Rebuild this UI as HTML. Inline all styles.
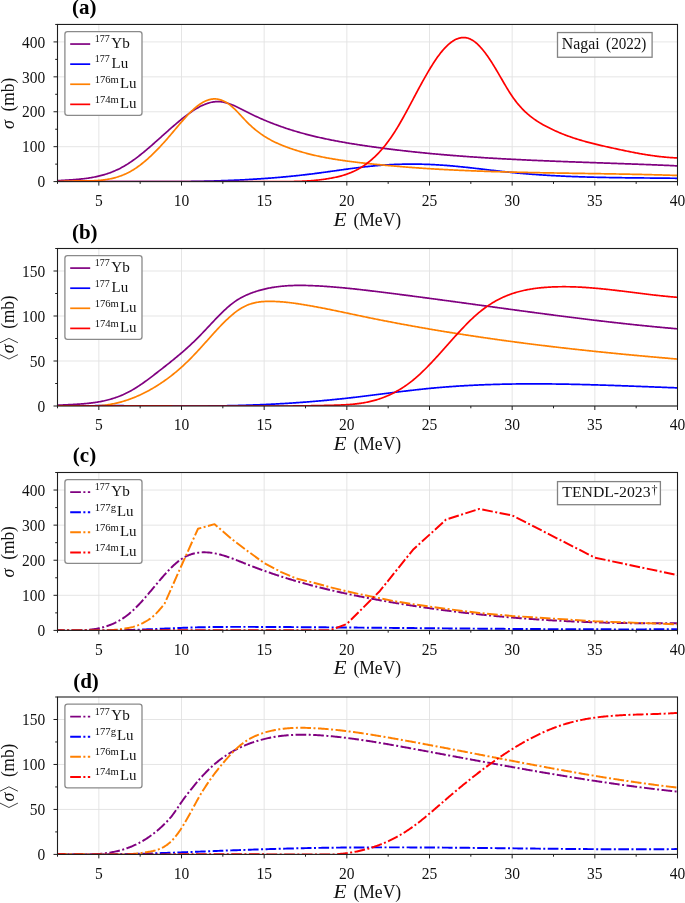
<!DOCTYPE html>
<html><head><meta charset="utf-8"><style>html,body{margin:0;padding:0;background:#fff;width:685px;height:903px;overflow:hidden}</style></head>
<body><svg width="685" height="903" viewBox="0 0 685 903" style="display:block;will-change:transform">
<rect width="685" height="903" fill="#fff"/>
<clipPath id="clip0"><rect x="57.5" y="24.45" width="620.0" height="157.15"/></clipPath>
<path d="M98.83 24.45V181.6M181.5 24.45V181.6M264.17 24.45V181.6M346.83 24.45V181.6M429.5 24.45V181.6M512.17 24.45V181.6M594.83 24.45V181.6M677.5 24.45V181.6M57.5 181.6H677.5M57.5 146.68H677.5M57.5 111.76H677.5M57.5 76.83H677.5M57.5 41.91H677.5" stroke="#e2e2e2" stroke-width="0.9" fill="none"/>
<g clip-path="url(#clip0)" fill="none" stroke-width="1.7" stroke-linejoin="round">
<path d="M57.5 180.67 58.5 180.6 59.5 180.54 60.5 180.48 61.5 180.43 62.5 180.37 63.5 180.31 64.5 180.25 65.5 180.19 66.5 180.13 67.5 180.07 68.5 180.01 69.5 179.95 70.5 179.88 71.5 179.81 72.5 179.74 73.5 179.67 74.5 179.6 75.5 179.52 76.5 179.44 77.5 179.35 78.5 179.26 79.5 179.17 80.5 179.07 81.5 178.96 82.5 178.85 83.5 178.74 84.5 178.62 85.5 178.49 86.5 178.36 87.5 178.22 88.5 178.08 89.5 177.92 90.5 177.76 91.5 177.6 92.5 177.42 93.5 177.24 94.5 177.04 95.5 176.84 96.5 176.63 97.5 176.41 98.5 176.18 99.5 175.94 100.5 175.69 101.5 175.43 102.5 175.16 103.5 174.88 104.5 174.59 105.5 174.28 106.5 173.97 107.5 173.64 108.5 173.3 109.5 172.94 110.5 172.58 111.5 172.2 112.5 171.81 113.5 171.4 114.5 170.98 115.5 170.54 116.5 170.09 117.5 169.63 118.5 169.15 119.5 168.65 120.5 168.14 121.5 167.61 122.5 167.07 123.5 166.51 124.5 165.93 125.5 165.34 126.5 164.73 127.5 164.11 128.5 163.47 129.5 162.81 130.5 162.14 131.5 161.46 132.5 160.76 133.5 160.05 134.5 159.32 135.5 158.59 136.5 157.84 137.5 157.08 138.5 156.31 139.5 155.53 140.5 154.74 141.5 153.94 142.5 153.13 143.5 152.31 144.5 151.49 145.5 150.65 146.5 149.81 147.5 148.97 148.5 148.11 149.5 147.25 150.5 146.39 151.5 145.52 152.5 144.64 153.5 143.76 154.5 142.88 155.5 141.99 156.5 141.1 157.5 140.21 158.5 139.32 159.5 138.42 160.5 137.53 161.5 136.63 162.5 135.73 163.5 134.84 164.5 133.94 165.5 133.05 166.5 132.16 167.5 131.27 168.5 130.38 169.5 129.49 170.5 128.61 171.5 127.73 172.5 126.86 173.5 125.99 174.5 125.13 175.5 124.27 176.5 123.42 177.5 122.58 178.5 121.74 179.5 120.91 180.5 120.09 181.5 119.27 182.5 118.47 183.5 117.67 184.5 116.89 185.5 116.11 186.5 115.35 187.5 114.6 188.5 113.87 189.5 113.14 190.5 112.44 191.5 111.74 192.5 111.07 193.5 110.41 194.5 109.77 195.5 109.14 196.5 108.54 197.5 107.96 198.5 107.39 199.5 106.85 200.5 106.33 201.5 105.84 202.5 105.36 203.5 104.91 204.5 104.49 205.5 104.09 206.5 103.72 207.5 103.38 208.5 103.06 209.5 102.77 210.5 102.52 211.5 102.29 212.5 102.09 213.5 101.93 214.5 101.79 215.5 101.69 216.5 101.63 217.5 101.6 218.5 101.6 219.5 101.64 220.5 101.72 221.5 101.83 222.5 101.98 223.5 102.16 224.5 102.37 225.5 102.61 226.5 102.88 227.5 103.17 228.5 103.49 229.5 103.83 230.5 104.2 231.5 104.58 232.5 104.98 233.5 105.4 234.5 105.84 235.5 106.29 236.5 106.76 237.5 107.23 238.5 107.72 239.5 108.21 240.5 108.71 241.5 109.22 242.5 109.73 243.5 110.25 244.5 110.76 245.5 111.27 246.5 111.78 247.5 112.29 248.5 112.8 249.5 113.29 250.5 113.79 251.5 114.28 252.5 114.76 253.5 115.24 254.5 115.71 255.5 116.18 256.5 116.64 257.5 117.1 258.5 117.55 259.5 118 260.5 118.44 261.5 118.88 262.5 119.32 263.5 119.75 264.5 120.17 265.5 120.59 266.5 121.01 267.5 121.42 268.5 121.83 269.5 122.23 270.5 122.63 271.5 123.02 272.5 123.41 273.5 123.79 274.5 124.18 275.5 124.55 276.5 124.92 277.5 125.29 278.5 125.66 279.5 126.02 280.5 126.37 281.5 126.72 282.5 127.07 283.5 127.42 284.5 127.76 285.5 128.09 286.5 128.43 287.5 128.76 288.5 129.08 289.5 129.4 290.5 129.72 291.5 130.03 292.5 130.34 293.5 130.65 294.5 130.95 295.5 131.25 296.5 131.55 297.5 131.84 298.5 132.13 299.5 132.42 300.5 132.7 301.5 132.98 302.5 133.26 303.5 133.53 304.5 133.8 305.5 134.07 306.5 134.33 307.5 134.6 308.5 134.85 309.5 135.11 310.5 135.36 311.5 135.61 312.5 135.86 313.5 136.1 314.5 136.34 315.5 136.58 316.5 136.81 317.5 137.05 318.5 137.28 319.5 137.5 320.5 137.73 321.5 137.95 322.5 138.17 323.5 138.39 324.5 138.6 325.5 138.82 326.5 139.03 327.5 139.23 328.5 139.44 329.5 139.64 330.5 139.85 331.5 140.04 332.5 140.24 333.5 140.44 334.5 140.63 335.5 140.82 336.5 141.01 337.5 141.2 338.5 141.38 339.5 141.56 340.5 141.74 341.5 141.92 342.5 142.1 343.5 142.28 344.5 142.45 345.5 142.63 346.5 142.8 347.5 142.97 348.5 143.13 349.5 143.3 350.5 143.47 351.5 143.63 352.5 143.79 353.5 143.95 354.5 144.11 355.5 144.27 356.5 144.43 357.5 144.58 358.5 144.74 359.5 144.89 360.5 145.04 361.5 145.2 362.5 145.35 363.5 145.5 364.5 145.64 365.5 145.79 366.5 145.94 367.5 146.08 368.5 146.23 369.5 146.37 370.5 146.51 371.5 146.66 372.5 146.8 373.5 146.94 374.5 147.08 375.5 147.21 376.5 147.35 377.5 147.49 378.5 147.62 379.5 147.76 380.5 147.89 381.5 148.03 382.5 148.16 383.5 148.29 384.5 148.42 385.5 148.55 386.5 148.68 387.5 148.8 388.5 148.93 389.5 149.06 390.5 149.18 391.5 149.31 392.5 149.43 393.5 149.55 394.5 149.67 395.5 149.8 396.5 149.92 397.5 150.04 398.5 150.15 399.5 150.27 400.5 150.39 401.5 150.5 402.5 150.62 403.5 150.73 404.5 150.85 405.5 150.96 406.5 151.07 407.5 151.18 408.5 151.29 409.5 151.4 410.5 151.51 411.5 151.62 412.5 151.73 413.5 151.84 414.5 151.94 415.5 152.05 416.5 152.15 417.5 152.26 418.5 152.36 419.5 152.46 420.5 152.56 421.5 152.66 422.5 152.76 423.5 152.86 424.5 152.96 425.5 153.06 426.5 153.16 427.5 153.25 428.5 153.35 429.5 153.44 430.5 153.54 431.5 153.63 432.5 153.73 433.5 153.82 434.5 153.91 435.5 154 436.5 154.09 437.5 154.18 438.5 154.27 439.5 154.36 440.5 154.45 441.5 154.53 442.5 154.62 443.5 154.71 444.5 154.79 445.5 154.88 446.5 154.96 447.5 155.04 448.5 155.13 449.5 155.21 450.5 155.29 451.5 155.37 452.5 155.45 453.5 155.53 454.5 155.61 455.5 155.69 456.5 155.77 457.5 155.84 458.5 155.92 459.5 156 460.5 156.07 461.5 156.15 462.5 156.22 463.5 156.3 464.5 156.37 465.5 156.44 466.5 156.51 467.5 156.59 468.5 156.66 469.5 156.73 470.5 156.8 471.5 156.87 472.5 156.94 473.5 157.01 474.5 157.07 475.5 157.14 476.5 157.21 477.5 157.27 478.5 157.34 479.5 157.41 480.5 157.47 481.5 157.54 482.5 157.6 483.5 157.66 484.5 157.73 485.5 157.79 486.5 157.85 487.5 157.91 488.5 157.98 489.5 158.04 490.5 158.1 491.5 158.16 492.5 158.22 493.5 158.28 494.5 158.33 495.5 158.39 496.5 158.45 497.5 158.51 498.5 158.56 499.5 158.62 500.5 158.68 501.5 158.73 502.5 158.79 503.5 158.84 504.5 158.9 505.5 158.95 506.5 159.01 507.5 159.06 508.5 159.11 509.5 159.16 510.5 159.22 511.5 159.27 512.5 159.32 513.5 159.37 514.5 159.42 515.5 159.47 516.5 159.52 517.5 159.57 518.5 159.62 519.5 159.67 520.5 159.72 521.5 159.77 522.5 159.82 523.5 159.86 524.5 159.91 525.5 159.96 526.5 160 527.5 160.05 528.5 160.1 529.5 160.14 530.5 160.19 531.5 160.23 532.5 160.28 533.5 160.32 534.5 160.37 535.5 160.41 536.5 160.46 537.5 160.5 538.5 160.54 539.5 160.59 540.5 160.63 541.5 160.67 542.5 160.72 543.5 160.76 544.5 160.8 545.5 160.84 546.5 160.88 547.5 160.92 548.5 160.97 549.5 161.01 550.5 161.05 551.5 161.09 552.5 161.13 553.5 161.17 554.5 161.21 555.5 161.25 556.5 161.29 557.5 161.33 558.5 161.36 559.5 161.4 560.5 161.44 561.5 161.48 562.5 161.52 563.5 161.56 564.5 161.6 565.5 161.63 566.5 161.67 567.5 161.71 568.5 161.75 569.5 161.78 570.5 161.82 571.5 161.86 572.5 161.9 573.5 161.93 574.5 161.97 575.5 162.01 576.5 162.04 577.5 162.08 578.5 162.11 579.5 162.15 580.5 162.19 581.5 162.22 582.5 162.26 583.5 162.29 584.5 162.33 585.5 162.37 586.5 162.4 587.5 162.44 588.5 162.47 589.5 162.51 590.5 162.54 591.5 162.58 592.5 162.61 593.5 162.65 594.5 162.68 595.5 162.72 596.5 162.76 597.5 162.79 598.5 162.83 599.5 162.86 600.5 162.9 601.5 162.93 602.5 162.97 603.5 163 604.5 163.04 605.5 163.07 606.5 163.11 607.5 163.14 608.5 163.18 609.5 163.21 610.5 163.25 611.5 163.28 612.5 163.32 613.5 163.35 614.5 163.39 615.5 163.42 616.5 163.46 617.5 163.49 618.5 163.53 619.5 163.56 620.5 163.6 621.5 163.64 622.5 163.67 623.5 163.71 624.5 163.74 625.5 163.78 626.5 163.82 627.5 163.85 628.5 163.89 629.5 163.92 630.5 163.96 631.5 164 632.5 164.03 633.5 164.07 634.5 164.11 635.5 164.15 636.5 164.18 637.5 164.22 638.5 164.26 639.5 164.29 640.5 164.33 641.5 164.37 642.5 164.41 643.5 164.45 644.5 164.49 645.5 164.52 646.5 164.56 647.5 164.6 648.5 164.64 649.5 164.68 650.5 164.72 651.5 164.76 652.5 164.8 653.5 164.84 654.5 164.88 655.5 164.92 656.5 164.96 657.5 165 658.5 165.04 659.5 165.08 660.5 165.12 661.5 165.17 662.5 165.21 663.5 165.25 664.5 165.29 665.5 165.34 666.5 165.38 667.5 165.42 668.5 165.46 669.5 165.51 670.5 165.55 671.5 165.6 672.5 165.64 673.5 165.69 674.5 165.73 675.5 165.78 676.5 165.82 677.5 165.87" stroke="#800080"/>
<path d="M57.5 181.6 58.5 181.6 59.5 181.6 60.5 181.6 61.5 181.6 62.5 181.59 63.5 181.58 64.5 181.56 65.5 181.55 66.5 181.54 67.5 181.53 68.5 181.52 69.5 181.51 70.5 181.51 71.5 181.5 72.5 181.49 73.5 181.48 74.5 181.48 75.5 181.47 76.5 181.47 77.5 181.46 78.5 181.46 79.5 181.46 80.5 181.45 81.5 181.45 82.5 181.45 83.5 181.45 84.5 181.45 85.5 181.45 86.5 181.45 87.5 181.45 88.5 181.45 89.5 181.45 90.5 181.45 91.5 181.45 92.5 181.45 93.5 181.46 94.5 181.46 95.5 181.46 96.5 181.46 97.5 181.47 98.5 181.47 99.5 181.47 100.5 181.48 101.5 181.48 102.5 181.49 103.5 181.49 104.5 181.5 105.5 181.5 106.5 181.51 107.5 181.51 108.5 181.52 109.5 181.53 110.5 181.53 111.5 181.54 112.5 181.54 113.5 181.55 114.5 181.56 115.5 181.56 116.5 181.57 117.5 181.57 118.5 181.58 119.5 181.59 120.5 181.59 121.5 181.6 122.5 181.6 123.5 181.6 124.5 181.6 125.5 181.6 126.5 181.6 127.5 181.6 128.5 181.6 129.5 181.6 130.5 181.6 131.5 181.6 132.5 181.6 133.5 181.6 134.5 181.6 135.5 181.6 136.5 181.6 137.5 181.6 138.5 181.6 139.5 181.6 140.5 181.6 141.5 181.6 142.5 181.6 143.5 181.6 144.5 181.6 145.5 181.6 146.5 181.6 147.5 181.6 148.5 181.6 149.5 181.6 150.5 181.6 151.5 181.6 152.5 181.6 153.5 181.6 154.5 181.6 155.5 181.6 156.5 181.6 157.5 181.6 158.5 181.6 159.5 181.6 160.5 181.6 161.5 181.6 162.5 181.6 163.5 181.6 164.5 181.6 165.5 181.6 166.5 181.6 167.5 181.6 168.5 181.6 169.5 181.6 170.5 181.6 171.5 181.6 172.5 181.6 173.5 181.6 174.5 181.6 175.5 181.6 176.5 181.6 177.5 181.6 178.5 181.6 179.5 181.6 180.5 181.6 181.5 181.59 182.5 181.58 183.5 181.57 184.5 181.56 185.5 181.54 186.5 181.53 187.5 181.52 188.5 181.51 189.5 181.49 190.5 181.48 191.5 181.46 192.5 181.44 193.5 181.43 194.5 181.41 195.5 181.39 196.5 181.38 197.5 181.36 198.5 181.34 199.5 181.32 200.5 181.3 201.5 181.28 202.5 181.26 203.5 181.23 204.5 181.21 205.5 181.19 206.5 181.16 207.5 181.14 208.5 181.11 209.5 181.09 210.5 181.06 211.5 181.03 212.5 181.01 213.5 180.98 214.5 180.95 215.5 180.92 216.5 180.89 217.5 180.86 218.5 180.82 219.5 180.79 220.5 180.76 221.5 180.72 222.5 180.69 223.5 180.65 224.5 180.62 225.5 180.58 226.5 180.54 227.5 180.51 228.5 180.47 229.5 180.43 230.5 180.39 231.5 180.34 232.5 180.3 233.5 180.26 234.5 180.21 235.5 180.17 236.5 180.12 237.5 180.08 238.5 180.03 239.5 179.98 240.5 179.93 241.5 179.88 242.5 179.83 243.5 179.78 244.5 179.73 245.5 179.68 246.5 179.62 247.5 179.57 248.5 179.51 249.5 179.46 250.5 179.4 251.5 179.34 252.5 179.28 253.5 179.22 254.5 179.16 255.5 179.1 256.5 179.04 257.5 178.97 258.5 178.91 259.5 178.84 260.5 178.78 261.5 178.71 262.5 178.64 263.5 178.57 264.5 178.5 265.5 178.43 266.5 178.36 267.5 178.28 268.5 178.21 269.5 178.13 270.5 178.06 271.5 177.98 272.5 177.9 273.5 177.82 274.5 177.74 275.5 177.66 276.5 177.57 277.5 177.49 278.5 177.41 279.5 177.32 280.5 177.23 281.5 177.14 282.5 177.06 283.5 176.96 284.5 176.87 285.5 176.78 286.5 176.69 287.5 176.59 288.5 176.5 289.5 176.4 290.5 176.3 291.5 176.2 292.5 176.1 293.5 176 294.5 175.9 295.5 175.79 296.5 175.69 297.5 175.58 298.5 175.47 299.5 175.37 300.5 175.26 301.5 175.15 302.5 175.03 303.5 174.92 304.5 174.8 305.5 174.69 306.5 174.57 307.5 174.45 308.5 174.33 309.5 174.21 310.5 174.09 311.5 173.97 312.5 173.84 313.5 173.72 314.5 173.59 315.5 173.46 316.5 173.33 317.5 173.2 318.5 173.07 319.5 172.93 320.5 172.8 321.5 172.67 322.5 172.53 323.5 172.39 324.5 172.26 325.5 172.12 326.5 171.98 327.5 171.84 328.5 171.7 329.5 171.56 330.5 171.42 331.5 171.28 332.5 171.14 333.5 171 334.5 170.86 335.5 170.72 336.5 170.58 337.5 170.44 338.5 170.3 339.5 170.16 340.5 170.02 341.5 169.88 342.5 169.74 343.5 169.6 344.5 169.46 345.5 169.32 346.5 169.18 347.5 169.05 348.5 168.91 349.5 168.78 350.5 168.64 351.5 168.51 352.5 168.38 353.5 168.25 354.5 168.12 355.5 167.99 356.5 167.86 357.5 167.73 358.5 167.61 359.5 167.48 360.5 167.36 361.5 167.24 362.5 167.12 363.5 167 364.5 166.89 365.5 166.77 366.5 166.66 367.5 166.55 368.5 166.44 369.5 166.34 370.5 166.23 371.5 166.13 372.5 166.03 373.5 165.93 374.5 165.83 375.5 165.74 376.5 165.65 377.5 165.56 378.5 165.48 379.5 165.39 380.5 165.31 381.5 165.24 382.5 165.16 383.5 165.09 384.5 165.02 385.5 164.95 386.5 164.89 387.5 164.82 388.5 164.76 389.5 164.71 390.5 164.65 391.5 164.6 392.5 164.55 393.5 164.51 394.5 164.46 395.5 164.42 396.5 164.38 397.5 164.35 398.5 164.31 399.5 164.28 400.5 164.25 401.5 164.23 402.5 164.2 403.5 164.18 404.5 164.16 405.5 164.15 406.5 164.13 407.5 164.12 408.5 164.11 409.5 164.11 410.5 164.1 411.5 164.1 412.5 164.1 413.5 164.1 414.5 164.11 415.5 164.12 416.5 164.13 417.5 164.14 418.5 164.15 419.5 164.17 420.5 164.19 421.5 164.21 422.5 164.24 423.5 164.26 424.5 164.29 425.5 164.32 426.5 164.35 427.5 164.39 428.5 164.43 429.5 164.47 430.5 164.51 431.5 164.55 432.5 164.6 433.5 164.65 434.5 164.7 435.5 164.75 436.5 164.81 437.5 164.86 438.5 164.92 439.5 164.98 440.5 165.05 441.5 165.11 442.5 165.18 443.5 165.25 444.5 165.32 445.5 165.4 446.5 165.47 447.5 165.55 448.5 165.63 449.5 165.71 450.5 165.8 451.5 165.88 452.5 165.97 453.5 166.06 454.5 166.15 455.5 166.24 456.5 166.33 457.5 166.43 458.5 166.53 459.5 166.63 460.5 166.73 461.5 166.83 462.5 166.93 463.5 167.03 464.5 167.14 465.5 167.24 466.5 167.35 467.5 167.46 468.5 167.57 469.5 167.68 470.5 167.79 471.5 167.9 472.5 168.01 473.5 168.12 474.5 168.24 475.5 168.35 476.5 168.47 477.5 168.58 478.5 168.7 479.5 168.81 480.5 168.93 481.5 169.05 482.5 169.17 483.5 169.28 484.5 169.4 485.5 169.52 486.5 169.63 487.5 169.75 488.5 169.87 489.5 169.99 490.5 170.1 491.5 170.22 492.5 170.34 493.5 170.45 494.5 170.57 495.5 170.69 496.5 170.8 497.5 170.92 498.5 171.03 499.5 171.14 500.5 171.26 501.5 171.37 502.5 171.48 503.5 171.59 504.5 171.7 505.5 171.81 506.5 171.92 507.5 172.02 508.5 172.13 509.5 172.23 510.5 172.34 511.5 172.44 512.5 172.54 513.5 172.64 514.5 172.74 515.5 172.84 516.5 172.93 517.5 173.03 518.5 173.12 519.5 173.21 520.5 173.3 521.5 173.39 522.5 173.48 523.5 173.57 524.5 173.65 525.5 173.74 526.5 173.82 527.5 173.9 528.5 173.98 529.5 174.06 530.5 174.14 531.5 174.22 532.5 174.3 533.5 174.37 534.5 174.45 535.5 174.52 536.5 174.59 537.5 174.66 538.5 174.73 539.5 174.8 540.5 174.87 541.5 174.94 542.5 175 543.5 175.07 544.5 175.13 545.5 175.19 546.5 175.25 547.5 175.32 548.5 175.38 549.5 175.43 550.5 175.49 551.5 175.55 552.5 175.6 553.5 175.66 554.5 175.71 555.5 175.77 556.5 175.82 557.5 175.87 558.5 175.92 559.5 175.97 560.5 176.02 561.5 176.07 562.5 176.11 563.5 176.16 564.5 176.21 565.5 176.25 566.5 176.29 567.5 176.34 568.5 176.38 569.5 176.42 570.5 176.46 571.5 176.5 572.5 176.54 573.5 176.58 574.5 176.62 575.5 176.65 576.5 176.69 577.5 176.72 578.5 176.76 579.5 176.79 580.5 176.83 581.5 176.86 582.5 176.89 583.5 176.92 584.5 176.95 585.5 176.98 586.5 177.01 587.5 177.04 588.5 177.07 589.5 177.1 590.5 177.12 591.5 177.15 592.5 177.18 593.5 177.2 594.5 177.23 595.5 177.25 596.5 177.27 597.5 177.3 598.5 177.32 599.5 177.34 600.5 177.36 601.5 177.39 602.5 177.41 603.5 177.43 604.5 177.45 605.5 177.47 606.5 177.48 607.5 177.5 608.5 177.52 609.5 177.54 610.5 177.56 611.5 177.57 612.5 177.59 613.5 177.61 614.5 177.62 615.5 177.64 616.5 177.65 617.5 177.67 618.5 177.68 619.5 177.7 620.5 177.71 621.5 177.72 622.5 177.74 623.5 177.75 624.5 177.76 625.5 177.78 626.5 177.79 627.5 177.8 628.5 177.81 629.5 177.82 630.5 177.83 631.5 177.85 632.5 177.86 633.5 177.87 634.5 177.88 635.5 177.89 636.5 177.9 637.5 177.91 638.5 177.92 639.5 177.93 640.5 177.94 641.5 177.95 642.5 177.96 643.5 177.97 644.5 177.98 645.5 177.99 646.5 178 647.5 178 648.5 178.01 649.5 178.02 650.5 178.03 651.5 178.04 652.5 178.05 653.5 178.06 654.5 178.07 655.5 178.08 656.5 178.09 657.5 178.1 658.5 178.11 659.5 178.12 660.5 178.12 661.5 178.13 662.5 178.14 663.5 178.15 664.5 178.16 665.5 178.17 666.5 178.18 667.5 178.19 668.5 178.2 669.5 178.21 670.5 178.23 671.5 178.24 672.5 178.25 673.5 178.26 674.5 178.27 675.5 178.28 676.5 178.29 677.5 178.31" stroke="#0000ff"/>
<path d="M57.5 181.6 58.5 181.59 59.5 181.5 60.5 181.42 61.5 181.35 62.5 181.29 63.5 181.24 64.5 181.19 65.5 181.15 66.5 181.11 67.5 181.08 68.5 181.05 69.5 181.03 70.5 181.01 71.5 181 72.5 180.99 73.5 180.98 74.5 180.97 75.5 180.97 76.5 180.96 77.5 180.96 78.5 180.96 79.5 180.96 80.5 180.96 81.5 180.96 82.5 180.96 83.5 180.95 84.5 180.95 85.5 180.94 86.5 180.93 87.5 180.91 88.5 180.9 89.5 180.87 90.5 180.85 91.5 180.82 92.5 180.78 93.5 180.74 94.5 180.69 95.5 180.64 96.5 180.58 97.5 180.51 98.5 180.44 99.5 180.35 100.5 180.26 101.5 180.16 102.5 180.05 103.5 179.93 104.5 179.8 105.5 179.65 106.5 179.5 107.5 179.34 108.5 179.16 109.5 178.97 110.5 178.77 111.5 178.56 112.5 178.33 113.5 178.09 114.5 177.83 115.5 177.56 116.5 177.28 117.5 176.97 118.5 176.66 119.5 176.32 120.5 175.97 121.5 175.6 122.5 175.21 123.5 174.81 124.5 174.38 125.5 173.94 126.5 173.48 127.5 173 128.5 172.5 129.5 171.97 130.5 171.43 131.5 170.86 132.5 170.27 133.5 169.66 134.5 169.03 135.5 168.38 136.5 167.71 137.5 167.01 138.5 166.3 139.5 165.57 140.5 164.81 141.5 164.04 142.5 163.25 143.5 162.44 144.5 161.61 145.5 160.77 146.5 159.91 147.5 159.03 148.5 158.13 149.5 157.22 150.5 156.29 151.5 155.35 152.5 154.39 153.5 153.42 154.5 152.43 155.5 151.43 156.5 150.41 157.5 149.38 158.5 148.34 159.5 147.29 160.5 146.22 161.5 145.14 162.5 144.05 163.5 142.95 164.5 141.84 165.5 140.71 166.5 139.58 167.5 138.44 168.5 137.29 169.5 136.13 170.5 134.96 171.5 133.78 172.5 132.6 173.5 131.41 174.5 130.22 175.5 129.03 176.5 127.84 177.5 126.66 178.5 125.47 179.5 124.3 180.5 123.13 181.5 121.97 182.5 120.82 183.5 119.68 184.5 118.56 185.5 117.45 186.5 116.36 187.5 115.29 188.5 114.24 189.5 113.21 190.5 112.21 191.5 111.23 192.5 110.27 193.5 109.35 194.5 108.45 195.5 107.59 196.5 106.76 197.5 105.97 198.5 105.21 199.5 104.49 200.5 103.81 201.5 103.17 202.5 102.57 203.5 102.01 204.5 101.49 205.5 101.02 206.5 100.59 207.5 100.21 208.5 99.88 209.5 99.59 210.5 99.36 211.5 99.17 212.5 99.03 213.5 98.95 214.5 98.91 215.5 98.94 216.5 99.01 217.5 99.14 218.5 99.32 219.5 99.55 220.5 99.84 221.5 100.17 222.5 100.56 223.5 100.99 224.5 101.48 225.5 102.02 226.5 102.6 227.5 103.24 228.5 103.92 229.5 104.65 230.5 105.43 231.5 106.25 232.5 107.12 233.5 108.03 234.5 108.98 235.5 109.95 236.5 110.96 237.5 111.99 238.5 113.03 239.5 114.09 240.5 115.16 241.5 116.24 242.5 117.32 243.5 118.39 244.5 119.46 245.5 120.51 246.5 121.55 247.5 122.57 248.5 123.56 249.5 124.53 250.5 125.47 251.5 126.39 252.5 127.29 253.5 128.16 254.5 129.01 255.5 129.84 256.5 130.64 257.5 131.42 258.5 132.19 259.5 132.93 260.5 133.65 261.5 134.35 262.5 135.04 263.5 135.7 264.5 136.35 265.5 136.98 266.5 137.59 267.5 138.19 268.5 138.77 269.5 139.33 270.5 139.88 271.5 140.42 272.5 140.94 273.5 141.45 274.5 141.94 275.5 142.42 276.5 142.89 277.5 143.35 278.5 143.79 279.5 144.23 280.5 144.65 281.5 145.07 282.5 145.48 283.5 145.87 284.5 146.26 285.5 146.64 286.5 147.02 287.5 147.38 288.5 147.74 289.5 148.1 290.5 148.45 291.5 148.79 292.5 149.13 293.5 149.46 294.5 149.79 295.5 150.11 296.5 150.43 297.5 150.74 298.5 151.04 299.5 151.35 300.5 151.64 301.5 151.93 302.5 152.22 303.5 152.5 304.5 152.78 305.5 153.05 306.5 153.32 307.5 153.58 308.5 153.84 309.5 154.09 310.5 154.34 311.5 154.59 312.5 154.83 313.5 155.07 314.5 155.3 315.5 155.53 316.5 155.75 317.5 155.98 318.5 156.19 319.5 156.41 320.5 156.62 321.5 156.82 322.5 157.03 323.5 157.22 324.5 157.42 325.5 157.61 326.5 157.8 327.5 157.99 328.5 158.17 329.5 158.35 330.5 158.53 331.5 158.7 332.5 158.87 333.5 159.04 334.5 159.2 335.5 159.36 336.5 159.52 337.5 159.68 338.5 159.83 339.5 159.99 340.5 160.14 341.5 160.28 342.5 160.43 343.5 160.57 344.5 160.71 345.5 160.85 346.5 160.99 347.5 161.12 348.5 161.25 349.5 161.38 350.5 161.51 351.5 161.64 352.5 161.76 353.5 161.89 354.5 162.01 355.5 162.13 356.5 162.25 357.5 162.37 358.5 162.49 359.5 162.6 360.5 162.72 361.5 162.83 362.5 162.94 363.5 163.05 364.5 163.16 365.5 163.27 366.5 163.38 367.5 163.49 368.5 163.6 369.5 163.71 370.5 163.81 371.5 163.92 372.5 164.02 373.5 164.12 374.5 164.23 375.5 164.33 376.5 164.43 377.5 164.53 378.5 164.63 379.5 164.72 380.5 164.82 381.5 164.92 382.5 165.01 383.5 165.11 384.5 165.2 385.5 165.3 386.5 165.39 387.5 165.48 388.5 165.57 389.5 165.66 390.5 165.75 391.5 165.84 392.5 165.93 393.5 166.02 394.5 166.1 395.5 166.19 396.5 166.27 397.5 166.36 398.5 166.44 399.5 166.52 400.5 166.6 401.5 166.69 402.5 166.77 403.5 166.85 404.5 166.93 405.5 167 406.5 167.08 407.5 167.16 408.5 167.24 409.5 167.31 410.5 167.39 411.5 167.46 412.5 167.53 413.5 167.61 414.5 167.68 415.5 167.75 416.5 167.82 417.5 167.89 418.5 167.96 419.5 168.03 420.5 168.1 421.5 168.17 422.5 168.23 423.5 168.3 424.5 168.36 425.5 168.43 426.5 168.49 427.5 168.56 428.5 168.62 429.5 168.68 430.5 168.74 431.5 168.81 432.5 168.87 433.5 168.93 434.5 168.99 435.5 169.05 436.5 169.1 437.5 169.16 438.5 169.22 439.5 169.28 440.5 169.33 441.5 169.39 442.5 169.44 443.5 169.5 444.5 169.55 445.5 169.6 446.5 169.66 447.5 169.71 448.5 169.76 449.5 169.81 450.5 169.86 451.5 169.91 452.5 169.96 453.5 170.01 454.5 170.06 455.5 170.11 456.5 170.15 457.5 170.2 458.5 170.25 459.5 170.29 460.5 170.34 461.5 170.38 462.5 170.43 463.5 170.47 464.5 170.52 465.5 170.56 466.5 170.6 467.5 170.64 468.5 170.69 469.5 170.73 470.5 170.77 471.5 170.81 472.5 170.85 473.5 170.89 474.5 170.93 475.5 170.96 476.5 171 477.5 171.04 478.5 171.08 479.5 171.11 480.5 171.15 481.5 171.19 482.5 171.22 483.5 171.26 484.5 171.29 485.5 171.33 486.5 171.36 487.5 171.4 488.5 171.43 489.5 171.46 490.5 171.49 491.5 171.53 492.5 171.56 493.5 171.59 494.5 171.62 495.5 171.65 496.5 171.68 497.5 171.71 498.5 171.74 499.5 171.77 500.5 171.8 501.5 171.83 502.5 171.86 503.5 171.89 504.5 171.91 505.5 171.94 506.5 171.97 507.5 171.99 508.5 172.02 509.5 172.05 510.5 172.07 511.5 172.1 512.5 172.12 513.5 172.15 514.5 172.17 515.5 172.2 516.5 172.22 517.5 172.25 518.5 172.27 519.5 172.29 520.5 172.32 521.5 172.34 522.5 172.36 523.5 172.39 524.5 172.41 525.5 172.43 526.5 172.45 527.5 172.47 528.5 172.5 529.5 172.52 530.5 172.54 531.5 172.56 532.5 172.58 533.5 172.6 534.5 172.62 535.5 172.64 536.5 172.66 537.5 172.68 538.5 172.7 539.5 172.72 540.5 172.74 541.5 172.76 542.5 172.77 543.5 172.79 544.5 172.81 545.5 172.83 546.5 172.85 547.5 172.87 548.5 172.88 549.5 172.9 550.5 172.92 551.5 172.94 552.5 172.95 553.5 172.97 554.5 172.99 555.5 173 556.5 173.02 557.5 173.04 558.5 173.05 559.5 173.07 560.5 173.09 561.5 173.1 562.5 173.12 563.5 173.14 564.5 173.15 565.5 173.17 566.5 173.18 567.5 173.2 568.5 173.22 569.5 173.23 570.5 173.25 571.5 173.26 572.5 173.28 573.5 173.29 574.5 173.31 575.5 173.33 576.5 173.34 577.5 173.36 578.5 173.37 579.5 173.39 580.5 173.4 581.5 173.42 582.5 173.43 583.5 173.45 584.5 173.46 585.5 173.48 586.5 173.5 587.5 173.51 588.5 173.53 589.5 173.54 590.5 173.56 591.5 173.57 592.5 173.59 593.5 173.6 594.5 173.62 595.5 173.63 596.5 173.65 597.5 173.67 598.5 173.68 599.5 173.7 600.5 173.71 601.5 173.73 602.5 173.75 603.5 173.76 604.5 173.78 605.5 173.8 606.5 173.81 607.5 173.83 608.5 173.84 609.5 173.86 610.5 173.88 611.5 173.9 612.5 173.91 613.5 173.93 614.5 173.95 615.5 173.96 616.5 173.98 617.5 174 618.5 174.02 619.5 174.04 620.5 174.05 621.5 174.07 622.5 174.09 623.5 174.11 624.5 174.13 625.5 174.15 626.5 174.17 627.5 174.18 628.5 174.2 629.5 174.22 630.5 174.24 631.5 174.26 632.5 174.28 633.5 174.3 634.5 174.32 635.5 174.35 636.5 174.37 637.5 174.39 638.5 174.41 639.5 174.43 640.5 174.45 641.5 174.47 642.5 174.5 643.5 174.52 644.5 174.54 645.5 174.57 646.5 174.59 647.5 174.61 648.5 174.64 649.5 174.66 650.5 174.68 651.5 174.71 652.5 174.73 653.5 174.76 654.5 174.78 655.5 174.81 656.5 174.84 657.5 174.86 658.5 174.89 659.5 174.92 660.5 174.94 661.5 174.97 662.5 175 663.5 175.03 664.5 175.06 665.5 175.08 666.5 175.11 667.5 175.14 668.5 175.17 669.5 175.2 670.5 175.23 671.5 175.26 672.5 175.3 673.5 175.33 674.5 175.36 675.5 175.39 676.5 175.42 677.5 175.46" stroke="#ff8000"/>
<path d="M57.5 181.6 58.5 181.6 59.5 181.6 60.5 181.6 61.5 181.6 62.5 181.6 63.5 181.6 64.5 181.6 65.5 181.6 66.5 181.6 67.5 181.6 68.5 181.6 69.5 181.6 70.5 181.6 71.5 181.6 72.5 181.6 73.5 181.6 74.5 181.6 75.5 181.6 76.5 181.6 77.5 181.6 78.5 181.6 79.5 181.6 80.5 181.6 81.5 181.6 82.5 181.6 83.5 181.59 84.5 181.59 85.5 181.59 86.5 181.59 87.5 181.59 88.5 181.59 89.5 181.59 90.5 181.59 91.5 181.59 92.5 181.59 93.5 181.59 94.5 181.59 95.5 181.59 96.5 181.59 97.5 181.59 98.5 181.59 99.5 181.59 100.5 181.59 101.5 181.59 102.5 181.59 103.5 181.59 104.5 181.59 105.5 181.59 106.5 181.59 107.5 181.59 108.5 181.59 109.5 181.59 110.5 181.59 111.5 181.6 112.5 181.6 113.5 181.6 114.5 181.6 115.5 181.6 116.5 181.6 117.5 181.6 118.5 181.6 119.5 181.6 120.5 181.6 121.5 181.6 122.5 181.6 123.5 181.6 124.5 181.6 125.5 181.6 126.5 181.6 127.5 181.6 128.5 181.6 129.5 181.6 130.5 181.6 131.5 181.6 132.5 181.6 133.5 181.6 134.5 181.6 135.5 181.6 136.5 181.6 137.5 181.6 138.5 181.6 139.5 181.6 140.5 181.6 141.5 181.6 142.5 181.6 143.5 181.6 144.5 181.6 145.5 181.6 146.5 181.6 147.5 181.6 148.5 181.6 149.5 181.6 150.5 181.6 151.5 181.6 152.5 181.6 153.5 181.6 154.5 181.6 155.5 181.6 156.5 181.6 157.5 181.6 158.5 181.6 159.5 181.6 160.5 181.6 161.5 181.6 162.5 181.6 163.5 181.6 164.5 181.6 165.5 181.6 166.5 181.6 167.5 181.6 168.5 181.6 169.5 181.6 170.5 181.6 171.5 181.6 172.5 181.6 173.5 181.6 174.5 181.6 175.5 181.6 176.5 181.6 177.5 181.6 178.5 181.6 179.5 181.6 180.5 181.6 181.5 181.6 182.5 181.6 183.5 181.6 184.5 181.6 185.5 181.6 186.5 181.6 187.5 181.6 188.5 181.6 189.5 181.6 190.5 181.6 191.5 181.6 192.5 181.6 193.5 181.6 194.5 181.6 195.5 181.6 196.5 181.6 197.5 181.6 198.5 181.6 199.5 181.6 200.5 181.6 201.5 181.6 202.5 181.6 203.5 181.6 204.5 181.6 205.5 181.6 206.5 181.6 207.5 181.6 208.5 181.6 209.5 181.6 210.5 181.6 211.5 181.6 212.5 181.6 213.5 181.6 214.5 181.59 215.5 181.59 216.5 181.59 217.5 181.59 218.5 181.59 219.5 181.59 220.5 181.59 221.5 181.59 222.5 181.59 223.5 181.59 224.5 181.59 225.5 181.59 226.5 181.59 227.5 181.59 228.5 181.59 229.5 181.59 230.5 181.58 231.5 181.58 232.5 181.58 233.5 181.58 234.5 181.58 235.5 181.58 236.5 181.58 237.5 181.58 238.5 181.58 239.5 181.58 240.5 181.58 241.5 181.58 242.5 181.58 243.5 181.58 244.5 181.58 245.5 181.58 246.5 181.58 247.5 181.58 248.5 181.58 249.5 181.58 250.5 181.58 251.5 181.58 252.5 181.58 253.5 181.58 254.5 181.58 255.5 181.58 256.5 181.58 257.5 181.59 258.5 181.59 259.5 181.59 260.5 181.59 261.5 181.59 262.5 181.59 263.5 181.59 264.5 181.59 265.5 181.59 266.5 181.59 267.5 181.6 268.5 181.6 269.5 181.6 270.5 181.6 271.5 181.6 272.5 181.6 273.5 181.6 274.5 181.6 275.5 181.6 276.5 181.6 277.5 181.6 278.5 181.6 279.5 181.6 280.5 181.6 281.5 181.6 282.5 181.6 283.5 181.6 284.5 181.6 285.5 181.59 286.5 181.59 287.5 181.58 288.5 181.57 289.5 181.56 290.5 181.54 291.5 181.53 292.5 181.51 293.5 181.49 294.5 181.47 295.5 181.44 296.5 181.42 297.5 181.39 298.5 181.36 299.5 181.32 300.5 181.29 301.5 181.24 302.5 181.2 303.5 181.15 304.5 181.1 305.5 181.05 306.5 180.99 307.5 180.93 308.5 180.87 309.5 180.8 310.5 180.73 311.5 180.65 312.5 180.57 313.5 180.49 314.5 180.4 315.5 180.3 316.5 180.2 317.5 180.1 318.5 179.99 319.5 179.88 320.5 179.76 321.5 179.64 322.5 179.51 323.5 179.37 324.5 179.23 325.5 179.09 326.5 178.94 327.5 178.78 328.5 178.62 329.5 178.45 330.5 178.27 331.5 178.09 332.5 177.9 333.5 177.71 334.5 177.51 335.5 177.29 336.5 177.07 337.5 176.84 338.5 176.6 339.5 176.35 340.5 176.09 341.5 175.82 342.5 175.53 343.5 175.23 344.5 174.92 345.5 174.6 346.5 174.26 347.5 173.91 348.5 173.54 349.5 173.15 350.5 172.75 351.5 172.34 352.5 171.9 353.5 171.45 354.5 170.98 355.5 170.5 356.5 169.99 357.5 169.46 358.5 168.92 359.5 168.35 360.5 167.76 361.5 167.15 362.5 166.52 363.5 165.86 364.5 165.18 365.5 164.48 366.5 163.76 367.5 163 368.5 162.23 369.5 161.43 370.5 160.6 371.5 159.75 372.5 158.87 373.5 157.97 374.5 157.04 375.5 156.08 376.5 155.1 377.5 154.08 378.5 153.04 379.5 151.97 380.5 150.87 381.5 149.74 382.5 148.58 383.5 147.39 384.5 146.17 385.5 144.92 386.5 143.64 387.5 142.33 388.5 140.98 389.5 139.6 390.5 138.19 391.5 136.75 392.5 135.27 393.5 133.76 394.5 132.21 395.5 130.63 396.5 129.02 397.5 127.38 398.5 125.71 399.5 124.01 400.5 122.28 401.5 120.54 402.5 118.77 403.5 116.98 404.5 115.17 405.5 113.35 406.5 111.51 407.5 109.66 408.5 107.8 409.5 105.93 410.5 104.06 411.5 102.18 412.5 100.29 413.5 98.41 414.5 96.52 415.5 94.64 416.5 92.76 417.5 90.89 418.5 89.02 419.5 87.17 420.5 85.32 421.5 83.49 422.5 81.67 423.5 79.87 424.5 78.08 425.5 76.31 426.5 74.57 427.5 72.84 428.5 71.13 429.5 69.46 430.5 67.8 431.5 66.18 432.5 64.58 433.5 63.02 434.5 61.49 435.5 59.99 436.5 58.53 437.5 57.11 438.5 55.73 439.5 54.4 440.5 53.1 441.5 51.85 442.5 50.65 443.5 49.49 444.5 48.38 445.5 47.32 446.5 46.31 447.5 45.35 448.5 44.44 449.5 43.58 450.5 42.78 451.5 42.02 452.5 41.33 453.5 40.68 454.5 40.1 455.5 39.57 456.5 39.1 457.5 38.69 458.5 38.34 459.5 38.05 460.5 37.82 461.5 37.66 462.5 37.56 463.5 37.52 464.5 37.55 465.5 37.64 466.5 37.81 467.5 38.04 468.5 38.34 469.5 38.71 470.5 39.15 471.5 39.66 472.5 40.24 473.5 40.89 474.5 41.61 475.5 42.39 476.5 43.24 477.5 44.15 478.5 45.11 479.5 46.13 480.5 47.21 481.5 48.34 482.5 49.52 483.5 50.75 484.5 52.02 485.5 53.34 486.5 54.7 487.5 56.11 488.5 57.55 489.5 59.02 490.5 60.54 491.5 62.08 492.5 63.66 493.5 65.26 494.5 66.89 495.5 68.55 496.5 70.22 497.5 71.92 498.5 73.63 499.5 75.35 500.5 77.07 501.5 78.8 502.5 80.53 503.5 82.24 504.5 83.95 505.5 85.65 506.5 87.32 507.5 88.97 508.5 90.6 509.5 92.19 510.5 93.74 511.5 95.26 512.5 96.73 513.5 98.16 514.5 99.54 515.5 100.87 516.5 102.17 517.5 103.42 518.5 104.63 519.5 105.8 520.5 106.93 521.5 108.02 522.5 109.08 523.5 110.1 524.5 111.09 525.5 112.05 526.5 112.97 527.5 113.87 528.5 114.73 529.5 115.57 530.5 116.38 531.5 117.16 532.5 117.92 533.5 118.65 534.5 119.37 535.5 120.06 536.5 120.73 537.5 121.38 538.5 122.01 539.5 122.63 540.5 123.23 541.5 123.82 542.5 124.39 543.5 124.95 544.5 125.5 545.5 126.04 546.5 126.57 547.5 127.09 548.5 127.6 549.5 128.11 550.5 128.6 551.5 129.09 552.5 129.57 553.5 130.04 554.5 130.5 555.5 130.96 556.5 131.4 557.5 131.84 558.5 132.27 559.5 132.7 560.5 133.12 561.5 133.53 562.5 133.93 563.5 134.32 564.5 134.71 565.5 135.1 566.5 135.47 567.5 135.84 568.5 136.21 569.5 136.56 570.5 136.92 571.5 137.26 572.5 137.6 573.5 137.94 574.5 138.26 575.5 138.59 576.5 138.91 577.5 139.22 578.5 139.53 579.5 139.83 580.5 140.13 581.5 140.43 582.5 140.72 583.5 141 584.5 141.29 585.5 141.56 586.5 141.84 587.5 142.11 588.5 142.38 589.5 142.64 590.5 142.9 591.5 143.16 592.5 143.41 593.5 143.66 594.5 143.91 595.5 144.15 596.5 144.4 597.5 144.64 598.5 144.88 599.5 145.11 600.5 145.35 601.5 145.58 602.5 145.81 603.5 146.04 604.5 146.26 605.5 146.49 606.5 146.71 607.5 146.94 608.5 147.16 609.5 147.38 610.5 147.6 611.5 147.82 612.5 148.04 613.5 148.26 614.5 148.48 615.5 148.7 616.5 148.91 617.5 149.13 618.5 149.35 619.5 149.56 620.5 149.77 621.5 149.99 622.5 150.2 623.5 150.41 624.5 150.62 625.5 150.82 626.5 151.03 627.5 151.23 628.5 151.44 629.5 151.64 630.5 151.84 631.5 152.03 632.5 152.23 633.5 152.42 634.5 152.61 635.5 152.8 636.5 152.99 637.5 153.17 638.5 153.36 639.5 153.54 640.5 153.72 641.5 153.89 642.5 154.06 643.5 154.23 644.5 154.4 645.5 154.57 646.5 154.73 647.5 154.89 648.5 155.04 649.5 155.19 650.5 155.34 651.5 155.49 652.5 155.63 653.5 155.77 654.5 155.91 655.5 156.04 656.5 156.17 657.5 156.3 658.5 156.42 659.5 156.54 660.5 156.65 661.5 156.76 662.5 156.87 663.5 156.97 664.5 157.07 665.5 157.16 666.5 157.25 667.5 157.34 668.5 157.42 669.5 157.5 670.5 157.57 671.5 157.64 672.5 157.7 673.5 157.76 674.5 157.81 675.5 157.86 676.5 157.9 677.5 157.94" stroke="#ff0000"/>
</g>
<path d="M57.5 181.6v2.3M98.83 181.6v4M140.17 181.6v2.3M181.5 181.6v4M222.83 181.6v2.3M264.17 181.6v4M305.5 181.6v2.3M346.83 181.6v4M388.17 181.6v2.3M429.5 181.6v4M470.83 181.6v2.3M512.17 181.6v4M553.5 181.6v2.3M594.83 181.6v4M636.17 181.6v2.3M677.5 181.6v4M57.5 181.6h-4M57.5 164.14h-2.3M57.5 146.68h-4M57.5 129.22h-2.3M57.5 111.76h-4M57.5 94.29h-2.3M57.5 76.83h-4M57.5 59.37h-2.3M57.5 41.91h-4M57.5 24.45h-2.3" stroke="#1e1e1e" stroke-width="1" fill="none"/>
<rect x="57.5" y="24.45" width="620.0" height="157.15" fill="none" stroke="#1e1e1e" stroke-width="1.1"/>
<g font-family='"Liberation Serif", serif' font-size="16.9" fill="#111" lengthAdjust="spacingAndGlyphs">
<text x="98.83" y="205.7" text-anchor="middle" textLength="7.75" lengthAdjust="spacingAndGlyphs">5</text>
<text x="181.5" y="205.7" text-anchor="middle" textLength="15.5" lengthAdjust="spacingAndGlyphs">10</text>
<text x="264.17" y="205.7" text-anchor="middle" textLength="15.5" lengthAdjust="spacingAndGlyphs">15</text>
<text x="346.83" y="205.7" text-anchor="middle" textLength="15.5" lengthAdjust="spacingAndGlyphs">20</text>
<text x="429.5" y="205.7" text-anchor="middle" textLength="15.5" lengthAdjust="spacingAndGlyphs">25</text>
<text x="512.17" y="205.7" text-anchor="middle" textLength="15.5" lengthAdjust="spacingAndGlyphs">30</text>
<text x="594.83" y="205.7" text-anchor="middle" textLength="15.5" lengthAdjust="spacingAndGlyphs">35</text>
<text x="677.5" y="205.7" text-anchor="middle" textLength="15.5" lengthAdjust="spacingAndGlyphs">40</text>
<text x="45.3" y="187.3" text-anchor="end" textLength="7.75" lengthAdjust="spacingAndGlyphs">0</text>
<text x="45.3" y="152.38" text-anchor="end" textLength="23.25" lengthAdjust="spacingAndGlyphs">100</text>
<text x="45.3" y="117.46" text-anchor="end" textLength="23.25" lengthAdjust="spacingAndGlyphs">200</text>
<text x="45.3" y="82.53" text-anchor="end" textLength="23.25" lengthAdjust="spacingAndGlyphs">300</text>
<text x="45.3" y="47.61" text-anchor="end" textLength="23.25" lengthAdjust="spacingAndGlyphs">400</text>
</g>
<text x="333.4" y="225.6" font-family='"Liberation Serif", serif' font-style="italic" font-size="18" fill="#111" textLength="13" lengthAdjust="spacingAndGlyphs">E</text>
<text x="353.4" y="225.6" font-family='"Liberation Serif", serif' font-size="18" fill="#111" textLength="47.8" lengthAdjust="spacingAndGlyphs">(MeV)</text>
<g transform="translate(13.9,103.02) rotate(-90)" font-family='"Liberation Serif", serif' font-size="18" fill="#111">
<text x="-26.1" y="0" font-style="italic" textLength="9" lengthAdjust="spacingAndGlyphs">σ</text>
<text x="-8.4" y="0" textLength="33.7" lengthAdjust="spacingAndGlyphs">(mb)</text>
</g>
<text x="71.95" y="14.2" font-family='"Liberation Serif", serif' font-weight="bold" font-size="21" fill="#000">(a)</text>
<rect x="64.9" y="31.65" width="77.1" height="83.7" rx="2.6" fill="#fff" stroke="#8a8a8a" stroke-width="1.3"/>
<path d="M70.2 44.05H90.2" stroke="#800080" stroke-width="1.7"/>
<text x="94.7" y="42.35" font-family='"Liberation Serif", serif' font-size="10.8" fill="#111" textLength="15.0" lengthAdjust="spacingAndGlyphs">177</text>
<text x="111.2" y="47.55" font-family='"Liberation Serif", serif' font-size="15.6" fill="#111" textLength="18.6" lengthAdjust="spacingAndGlyphs">Yb</text>
<path d="M70.2 64.15H90.2" stroke="#0000ff" stroke-width="1.7"/>
<text x="94.7" y="62.45" font-family='"Liberation Serif", serif' font-size="10.8" fill="#111" textLength="15.0" lengthAdjust="spacingAndGlyphs">177</text>
<text x="111.5" y="67.65" font-family='"Liberation Serif", serif' font-size="15.6" fill="#111" textLength="16.6" lengthAdjust="spacingAndGlyphs">Lu</text>
<path d="M70.2 84.25H90.2" stroke="#ff8000" stroke-width="1.7"/>
<text x="94.7" y="82.55" font-family='"Liberation Serif", serif' font-size="10.8" fill="#111" textLength="24.2" lengthAdjust="spacingAndGlyphs">176m</text>
<text x="119.9" y="87.75" font-family='"Liberation Serif", serif' font-size="15.6" fill="#111" textLength="16.6" lengthAdjust="spacingAndGlyphs">Lu</text>
<path d="M70.2 104.35H90.2" stroke="#ff0000" stroke-width="1.7"/>
<text x="94.7" y="102.65" font-family='"Liberation Serif", serif' font-size="10.8" fill="#111" textLength="24.2" lengthAdjust="spacingAndGlyphs">174m</text>
<text x="119.9" y="107.85" font-family='"Liberation Serif", serif' font-size="15.6" fill="#111" textLength="16.6" lengthAdjust="spacingAndGlyphs">Lu</text>
<rect x="557.5" y="32.55" width="94.6" height="24.7" fill="#fff" stroke="#838383" stroke-width="1.3"/>
<text x="561.8" y="48.75" font-family='"Liberation Serif", serif' font-size="15.8" fill="#111" textLength="37.8" lengthAdjust="spacingAndGlyphs">Nagai</text>
<text x="606.1" y="48.75" font-family='"Liberation Serif", serif' font-size="15.8" fill="#111" textLength="40.3" lengthAdjust="spacingAndGlyphs">(2022)</text>
<clipPath id="clip1"><rect x="57.5" y="248.5" width="620.0" height="157.5"/></clipPath>
<path d="M98.83 248.5V406M181.5 248.5V406M264.17 248.5V406M346.83 248.5V406M429.5 248.5V406M512.17 248.5V406M594.83 248.5V406M677.5 248.5V406M57.5 406H677.5M57.5 361H677.5M57.5 316H677.5M57.5 271H677.5" stroke="#e2e2e2" stroke-width="0.9" fill="none"/>
<g clip-path="url(#clip1)" fill="none" stroke-width="1.7" stroke-linejoin="round">
<path d="M57.5 405.28 58.5 405.22 59.5 405.17 60.5 405.11 61.5 405.06 62.5 405.01 63.5 404.95 64.5 404.9 65.5 404.85 66.5 404.81 67.5 404.76 68.5 404.71 69.5 404.66 70.5 404.61 71.5 404.56 72.5 404.5 73.5 404.45 74.5 404.39 75.5 404.34 76.5 404.28 77.5 404.22 78.5 404.15 79.5 404.08 80.5 404.01 81.5 403.94 82.5 403.86 83.5 403.78 84.5 403.69 85.5 403.6 86.5 403.51 87.5 403.41 88.5 403.31 89.5 403.2 90.5 403.08 91.5 402.96 92.5 402.83 93.5 402.7 94.5 402.56 95.5 402.41 96.5 402.26 97.5 402.1 98.5 401.93 99.5 401.75 100.5 401.56 101.5 401.37 102.5 401.17 103.5 400.96 104.5 400.74 105.5 400.51 106.5 400.27 107.5 400.02 108.5 399.76 109.5 399.49 110.5 399.21 111.5 398.92 112.5 398.62 113.5 398.31 114.5 397.98 115.5 397.65 116.5 397.3 117.5 396.94 118.5 396.56 119.5 396.18 120.5 395.78 121.5 395.37 122.5 394.94 123.5 394.5 124.5 394.05 125.5 393.58 126.5 393.09 127.5 392.6 128.5 392.08 129.5 391.56 130.5 391.01 131.5 390.45 132.5 389.88 133.5 389.29 134.5 388.69 135.5 388.07 136.5 387.45 137.5 386.81 138.5 386.15 139.5 385.49 140.5 384.82 141.5 384.13 142.5 383.44 143.5 382.73 144.5 382.02 145.5 381.3 146.5 380.58 147.5 379.84 148.5 379.1 149.5 378.35 150.5 377.6 151.5 376.84 152.5 376.08 153.5 375.31 154.5 374.54 155.5 373.77 156.5 373 157.5 372.22 158.5 371.44 159.5 370.66 160.5 369.88 161.5 369.1 162.5 368.32 163.5 367.53 164.5 366.75 165.5 365.96 166.5 365.17 167.5 364.38 168.5 363.59 169.5 362.79 170.5 361.99 171.5 361.18 172.5 360.38 173.5 359.56 174.5 358.75 175.5 357.93 176.5 357.1 177.5 356.27 178.5 355.43 179.5 354.59 180.5 353.74 181.5 352.88 182.5 352.02 183.5 351.15 184.5 350.28 185.5 349.39 186.5 348.5 187.5 347.6 188.5 346.7 189.5 345.78 190.5 344.86 191.5 343.92 192.5 342.98 193.5 342.03 194.5 341.06 195.5 340.09 196.5 339.11 197.5 338.11 198.5 337.11 199.5 336.09 200.5 335.06 201.5 334.03 202.5 332.99 203.5 331.94 204.5 330.88 205.5 329.82 206.5 328.76 207.5 327.7 208.5 326.63 209.5 325.56 210.5 324.49 211.5 323.43 212.5 322.37 213.5 321.31 214.5 320.25 215.5 319.2 216.5 318.16 217.5 317.13 218.5 316.1 219.5 315.09 220.5 314.09 221.5 313.09 222.5 312.12 223.5 311.15 224.5 310.21 225.5 309.28 226.5 308.36 227.5 307.47 228.5 306.6 229.5 305.75 230.5 304.92 231.5 304.11 232.5 303.33 233.5 302.58 234.5 301.85 235.5 301.15 236.5 300.48 237.5 299.83 238.5 299.21 239.5 298.62 240.5 298.04 241.5 297.49 242.5 296.96 243.5 296.45 244.5 295.96 245.5 295.49 246.5 295.04 247.5 294.61 248.5 294.19 249.5 293.78 250.5 293.39 251.5 293.01 252.5 292.65 253.5 292.29 254.5 291.95 255.5 291.62 256.5 291.29 257.5 290.98 258.5 290.68 259.5 290.39 260.5 290.11 261.5 289.84 262.5 289.58 263.5 289.32 264.5 289.08 265.5 288.85 266.5 288.62 267.5 288.41 268.5 288.2 269.5 288.01 270.5 287.82 271.5 287.64 272.5 287.46 273.5 287.3 274.5 287.14 275.5 286.99 276.5 286.85 277.5 286.72 278.5 286.59 279.5 286.48 280.5 286.36 281.5 286.26 282.5 286.16 283.5 286.07 284.5 285.99 285.5 285.91 286.5 285.84 287.5 285.77 288.5 285.71 289.5 285.66 290.5 285.61 291.5 285.57 292.5 285.53 293.5 285.5 294.5 285.47 295.5 285.45 296.5 285.43 297.5 285.42 298.5 285.41 299.5 285.41 300.5 285.41 301.5 285.41 302.5 285.42 303.5 285.43 304.5 285.45 305.5 285.47 306.5 285.49 307.5 285.51 308.5 285.54 309.5 285.57 310.5 285.61 311.5 285.65 312.5 285.69 313.5 285.73 314.5 285.77 315.5 285.82 316.5 285.87 317.5 285.92 318.5 285.97 319.5 286.02 320.5 286.08 321.5 286.14 322.5 286.2 323.5 286.26 324.5 286.32 325.5 286.39 326.5 286.46 327.5 286.53 328.5 286.6 329.5 286.67 330.5 286.75 331.5 286.82 332.5 286.9 333.5 286.98 334.5 287.06 335.5 287.14 336.5 287.23 337.5 287.31 338.5 287.4 339.5 287.49 340.5 287.58 341.5 287.67 342.5 287.76 343.5 287.86 344.5 287.95 345.5 288.05 346.5 288.15 347.5 288.25 348.5 288.35 349.5 288.45 350.5 288.55 351.5 288.66 352.5 288.76 353.5 288.87 354.5 288.97 355.5 289.08 356.5 289.19 357.5 289.3 358.5 289.41 359.5 289.52 360.5 289.63 361.5 289.75 362.5 289.86 363.5 289.98 364.5 290.09 365.5 290.21 366.5 290.33 367.5 290.44 368.5 290.56 369.5 290.68 370.5 290.8 371.5 290.92 372.5 291.04 373.5 291.16 374.5 291.28 375.5 291.4 376.5 291.53 377.5 291.65 378.5 291.77 379.5 291.89 380.5 292.02 381.5 292.14 382.5 292.26 383.5 292.39 384.5 292.51 385.5 292.64 386.5 292.76 387.5 292.89 388.5 293.01 389.5 293.14 390.5 293.27 391.5 293.39 392.5 293.52 393.5 293.64 394.5 293.77 395.5 293.9 396.5 294.03 397.5 294.15 398.5 294.28 399.5 294.41 400.5 294.54 401.5 294.67 402.5 294.8 403.5 294.92 404.5 295.05 405.5 295.18 406.5 295.31 407.5 295.44 408.5 295.57 409.5 295.7 410.5 295.83 411.5 295.96 412.5 296.09 413.5 296.22 414.5 296.36 415.5 296.49 416.5 296.62 417.5 296.75 418.5 296.88 419.5 297.01 420.5 297.14 421.5 297.28 422.5 297.41 423.5 297.54 424.5 297.67 425.5 297.81 426.5 297.94 427.5 298.07 428.5 298.21 429.5 298.34 430.5 298.47 431.5 298.61 432.5 298.74 433.5 298.88 434.5 299.01 435.5 299.14 436.5 299.28 437.5 299.41 438.5 299.55 439.5 299.68 440.5 299.82 441.5 299.95 442.5 300.09 443.5 300.22 444.5 300.36 445.5 300.49 446.5 300.63 447.5 300.76 448.5 300.9 449.5 301.03 450.5 301.17 451.5 301.3 452.5 301.44 453.5 301.58 454.5 301.71 455.5 301.85 456.5 301.99 457.5 302.12 458.5 302.26 459.5 302.39 460.5 302.53 461.5 302.67 462.5 302.8 463.5 302.94 464.5 303.08 465.5 303.21 466.5 303.35 467.5 303.49 468.5 303.62 469.5 303.76 470.5 303.9 471.5 304.03 472.5 304.17 473.5 304.31 474.5 304.44 475.5 304.58 476.5 304.72 477.5 304.86 478.5 304.99 479.5 305.13 480.5 305.27 481.5 305.4 482.5 305.54 483.5 305.68 484.5 305.81 485.5 305.95 486.5 306.09 487.5 306.22 488.5 306.36 489.5 306.5 490.5 306.64 491.5 306.77 492.5 306.91 493.5 307.05 494.5 307.18 495.5 307.32 496.5 307.46 497.5 307.59 498.5 307.73 499.5 307.87 500.5 308 501.5 308.14 502.5 308.27 503.5 308.41 504.5 308.55 505.5 308.68 506.5 308.82 507.5 308.95 508.5 309.09 509.5 309.23 510.5 309.36 511.5 309.5 512.5 309.63 513.5 309.77 514.5 309.9 515.5 310.04 516.5 310.18 517.5 310.31 518.5 310.45 519.5 310.58 520.5 310.72 521.5 310.85 522.5 310.99 523.5 311.12 524.5 311.25 525.5 311.39 526.5 311.52 527.5 311.66 528.5 311.79 529.5 311.92 530.5 312.06 531.5 312.19 532.5 312.33 533.5 312.46 534.5 312.59 535.5 312.72 536.5 312.86 537.5 312.99 538.5 313.12 539.5 313.25 540.5 313.39 541.5 313.52 542.5 313.65 543.5 313.78 544.5 313.91 545.5 314.05 546.5 314.18 547.5 314.31 548.5 314.44 549.5 314.57 550.5 314.7 551.5 314.83 552.5 314.96 553.5 315.09 554.5 315.22 555.5 315.35 556.5 315.48 557.5 315.61 558.5 315.74 559.5 315.87 560.5 315.99 561.5 316.12 562.5 316.25 563.5 316.38 564.5 316.51 565.5 316.63 566.5 316.76 567.5 316.89 568.5 317.01 569.5 317.14 570.5 317.27 571.5 317.39 572.5 317.52 573.5 317.64 574.5 317.77 575.5 317.89 576.5 318.02 577.5 318.14 578.5 318.27 579.5 318.39 580.5 318.52 581.5 318.64 582.5 318.76 583.5 318.88 584.5 319.01 585.5 319.13 586.5 319.25 587.5 319.37 588.5 319.5 589.5 319.62 590.5 319.74 591.5 319.86 592.5 319.98 593.5 320.1 594.5 320.22 595.5 320.34 596.5 320.46 597.5 320.57 598.5 320.69 599.5 320.81 600.5 320.93 601.5 321.05 602.5 321.16 603.5 321.28 604.5 321.4 605.5 321.51 606.5 321.63 607.5 321.75 608.5 321.86 609.5 321.98 610.5 322.09 611.5 322.2 612.5 322.32 613.5 322.43 614.5 322.54 615.5 322.66 616.5 322.77 617.5 322.88 618.5 322.99 619.5 323.1 620.5 323.21 621.5 323.33 622.5 323.44 623.5 323.55 624.5 323.65 625.5 323.76 626.5 323.87 627.5 323.98 628.5 324.09 629.5 324.2 630.5 324.3 631.5 324.41 632.5 324.52 633.5 324.62 634.5 324.73 635.5 324.83 636.5 324.94 637.5 325.04 638.5 325.14 639.5 325.25 640.5 325.35 641.5 325.45 642.5 325.55 643.5 325.66 644.5 325.76 645.5 325.86 646.5 325.96 647.5 326.06 648.5 326.16 649.5 326.26 650.5 326.35 651.5 326.45 652.5 326.55 653.5 326.65 654.5 326.74 655.5 326.84 656.5 326.94 657.5 327.03 658.5 327.13 659.5 327.22 660.5 327.31 661.5 327.41 662.5 327.5 663.5 327.59 664.5 327.68 665.5 327.78 666.5 327.87 667.5 327.96 668.5 328.05 669.5 328.14 670.5 328.22 671.5 328.31 672.5 328.4 673.5 328.49 674.5 328.57 675.5 328.66 676.5 328.75 677.5 328.83" stroke="#800080"/>
<path d="M57.5 406 58.5 406 59.5 406 60.5 406 61.5 406 62.5 406 63.5 406 64.5 406 65.5 406 66.5 406 67.5 406 68.5 406 69.5 406 70.5 406 71.5 406 72.5 405.98 73.5 405.97 74.5 405.95 75.5 405.93 76.5 405.92 77.5 405.9 78.5 405.89 79.5 405.87 80.5 405.86 81.5 405.85 82.5 405.83 83.5 405.82 84.5 405.81 85.5 405.8 86.5 405.79 87.5 405.78 88.5 405.77 89.5 405.76 90.5 405.76 91.5 405.75 92.5 405.74 93.5 405.74 94.5 405.73 95.5 405.72 96.5 405.72 97.5 405.71 98.5 405.71 99.5 405.71 100.5 405.7 101.5 405.7 102.5 405.7 103.5 405.7 104.5 405.69 105.5 405.69 106.5 405.69 107.5 405.69 108.5 405.69 109.5 405.69 110.5 405.69 111.5 405.69 112.5 405.69 113.5 405.69 114.5 405.7 115.5 405.7 116.5 405.7 117.5 405.7 118.5 405.71 119.5 405.71 120.5 405.71 121.5 405.72 122.5 405.72 123.5 405.72 124.5 405.73 125.5 405.73 126.5 405.74 127.5 405.74 128.5 405.75 129.5 405.75 130.5 405.76 131.5 405.76 132.5 405.77 133.5 405.77 134.5 405.78 135.5 405.78 136.5 405.79 137.5 405.8 138.5 405.8 139.5 405.81 140.5 405.82 141.5 405.82 142.5 405.83 143.5 405.84 144.5 405.84 145.5 405.85 146.5 405.86 147.5 405.86 148.5 405.87 149.5 405.88 150.5 405.88 151.5 405.89 152.5 405.9 153.5 405.9 154.5 405.91 155.5 405.92 156.5 405.92 157.5 405.93 158.5 405.94 159.5 405.94 160.5 405.95 161.5 405.95 162.5 405.96 163.5 405.97 164.5 405.97 165.5 405.98 166.5 405.98 167.5 405.99 168.5 405.99 169.5 406 170.5 406 171.5 406 172.5 406 173.5 406 174.5 406 175.5 406 176.5 406 177.5 406 178.5 406 179.5 406 180.5 406 181.5 406 182.5 406 183.5 406 184.5 406 185.5 406 186.5 406 187.5 406 188.5 406 189.5 406 190.5 406 191.5 406 192.5 406 193.5 406 194.5 406 195.5 406 196.5 406 197.5 406 198.5 406 199.5 406 200.5 406 201.5 406 202.5 406 203.5 406 204.5 406 205.5 405.99 206.5 405.99 207.5 405.98 208.5 405.97 209.5 405.96 210.5 405.95 211.5 405.94 212.5 405.93 213.5 405.92 214.5 405.91 215.5 405.9 216.5 405.88 217.5 405.87 218.5 405.86 219.5 405.84 220.5 405.83 221.5 405.81 222.5 405.8 223.5 405.78 224.5 405.76 225.5 405.74 226.5 405.73 227.5 405.71 228.5 405.69 229.5 405.67 230.5 405.65 231.5 405.62 232.5 405.6 233.5 405.58 234.5 405.55 235.5 405.53 236.5 405.5 237.5 405.48 238.5 405.45 239.5 405.42 240.5 405.4 241.5 405.37 242.5 405.34 243.5 405.31 244.5 405.28 245.5 405.25 246.5 405.22 247.5 405.18 248.5 405.15 249.5 405.12 250.5 405.08 251.5 405.05 252.5 405.01 253.5 404.97 254.5 404.94 255.5 404.9 256.5 404.86 257.5 404.82 258.5 404.78 259.5 404.74 260.5 404.7 261.5 404.66 262.5 404.61 263.5 404.57 264.5 404.52 265.5 404.48 266.5 404.43 267.5 404.39 268.5 404.34 269.5 404.29 270.5 404.24 271.5 404.19 272.5 404.14 273.5 404.09 274.5 404.04 275.5 403.99 276.5 403.93 277.5 403.88 278.5 403.83 279.5 403.77 280.5 403.71 281.5 403.66 282.5 403.6 283.5 403.54 284.5 403.48 285.5 403.42 286.5 403.36 287.5 403.3 288.5 403.24 289.5 403.18 290.5 403.11 291.5 403.05 292.5 402.98 293.5 402.92 294.5 402.85 295.5 402.78 296.5 402.71 297.5 402.64 298.5 402.57 299.5 402.5 300.5 402.43 301.5 402.36 302.5 402.29 303.5 402.21 304.5 402.14 305.5 402.06 306.5 401.99 307.5 401.91 308.5 401.83 309.5 401.75 310.5 401.67 311.5 401.59 312.5 401.51 313.5 401.43 314.5 401.35 315.5 401.26 316.5 401.18 317.5 401.09 318.5 401.01 319.5 400.92 320.5 400.83 321.5 400.74 322.5 400.65 323.5 400.56 324.5 400.47 325.5 400.38 326.5 400.29 327.5 400.19 328.5 400.1 329.5 400 330.5 399.91 331.5 399.81 332.5 399.71 333.5 399.61 334.5 399.51 335.5 399.41 336.5 399.31 337.5 399.21 338.5 399.11 339.5 399 340.5 398.9 341.5 398.79 342.5 398.69 343.5 398.58 344.5 398.47 345.5 398.36 346.5 398.25 347.5 398.14 348.5 398.03 349.5 397.92 350.5 397.8 351.5 397.69 352.5 397.57 353.5 397.46 354.5 397.34 355.5 397.22 356.5 397.11 357.5 396.99 358.5 396.87 359.5 396.75 360.5 396.63 361.5 396.51 362.5 396.38 363.5 396.26 364.5 396.14 365.5 396.02 366.5 395.89 367.5 395.77 368.5 395.65 369.5 395.52 370.5 395.4 371.5 395.27 372.5 395.15 373.5 395.02 374.5 394.9 375.5 394.77 376.5 394.65 377.5 394.52 378.5 394.39 379.5 394.27 380.5 394.14 381.5 394.01 382.5 393.89 383.5 393.76 384.5 393.64 385.5 393.51 386.5 393.38 387.5 393.26 388.5 393.13 389.5 393.01 390.5 392.88 391.5 392.76 392.5 392.63 393.5 392.51 394.5 392.38 395.5 392.26 396.5 392.13 397.5 392.01 398.5 391.89 399.5 391.76 400.5 391.64 401.5 391.52 402.5 391.4 403.5 391.28 404.5 391.16 405.5 391.04 406.5 390.92 407.5 390.8 408.5 390.69 409.5 390.57 410.5 390.45 411.5 390.34 412.5 390.22 413.5 390.11 414.5 390 415.5 389.88 416.5 389.77 417.5 389.66 418.5 389.55 419.5 389.44 420.5 389.34 421.5 389.23 422.5 389.12 423.5 389.02 424.5 388.92 425.5 388.81 426.5 388.71 427.5 388.61 428.5 388.51 429.5 388.41 430.5 388.32 431.5 388.22 432.5 388.13 433.5 388.04 434.5 387.94 435.5 387.85 436.5 387.76 437.5 387.68 438.5 387.59 439.5 387.5 440.5 387.42 441.5 387.33 442.5 387.25 443.5 387.17 444.5 387.09 445.5 387.01 446.5 386.93 447.5 386.86 448.5 386.78 449.5 386.71 450.5 386.63 451.5 386.56 452.5 386.49 453.5 386.42 454.5 386.35 455.5 386.28 456.5 386.22 457.5 386.15 458.5 386.09 459.5 386.02 460.5 385.96 461.5 385.9 462.5 385.84 463.5 385.78 464.5 385.72 465.5 385.66 466.5 385.61 467.5 385.55 468.5 385.5 469.5 385.44 470.5 385.39 471.5 385.34 472.5 385.29 473.5 385.24 474.5 385.19 475.5 385.14 476.5 385.1 477.5 385.05 478.5 385.01 479.5 384.96 480.5 384.92 481.5 384.88 482.5 384.84 483.5 384.8 484.5 384.76 485.5 384.72 486.5 384.68 487.5 384.65 488.5 384.61 489.5 384.58 490.5 384.54 491.5 384.51 492.5 384.48 493.5 384.45 494.5 384.42 495.5 384.39 496.5 384.36 497.5 384.33 498.5 384.31 499.5 384.28 500.5 384.26 501.5 384.23 502.5 384.21 503.5 384.19 504.5 384.17 505.5 384.15 506.5 384.13 507.5 384.11 508.5 384.09 509.5 384.07 510.5 384.05 511.5 384.04 512.5 384.02 513.5 384.01 514.5 383.99 515.5 383.98 516.5 383.97 517.5 383.96 518.5 383.95 519.5 383.94 520.5 383.93 521.5 383.92 522.5 383.91 523.5 383.9 524.5 383.9 525.5 383.89 526.5 383.88 527.5 383.88 528.5 383.88 529.5 383.87 530.5 383.87 531.5 383.87 532.5 383.87 533.5 383.87 534.5 383.87 535.5 383.87 536.5 383.87 537.5 383.87 538.5 383.88 539.5 383.88 540.5 383.88 541.5 383.89 542.5 383.89 543.5 383.9 544.5 383.9 545.5 383.91 546.5 383.92 547.5 383.93 548.5 383.94 549.5 383.95 550.5 383.96 551.5 383.97 552.5 383.98 553.5 383.99 554.5 384 555.5 384.01 556.5 384.03 557.5 384.04 558.5 384.05 559.5 384.07 560.5 384.08 561.5 384.1 562.5 384.12 563.5 384.13 564.5 384.15 565.5 384.17 566.5 384.19 567.5 384.2 568.5 384.22 569.5 384.24 570.5 384.26 571.5 384.28 572.5 384.3 573.5 384.32 574.5 384.35 575.5 384.37 576.5 384.39 577.5 384.41 578.5 384.44 579.5 384.46 580.5 384.49 581.5 384.51 582.5 384.53 583.5 384.56 584.5 384.59 585.5 384.61 586.5 384.64 587.5 384.67 588.5 384.69 589.5 384.72 590.5 384.75 591.5 384.78 592.5 384.8 593.5 384.83 594.5 384.86 595.5 384.89 596.5 384.92 597.5 384.95 598.5 384.98 599.5 385.01 600.5 385.04 601.5 385.08 602.5 385.11 603.5 385.14 604.5 385.17 605.5 385.2 606.5 385.24 607.5 385.27 608.5 385.3 609.5 385.33 610.5 385.37 611.5 385.4 612.5 385.44 613.5 385.47 614.5 385.5 615.5 385.54 616.5 385.57 617.5 385.61 618.5 385.64 619.5 385.68 620.5 385.72 621.5 385.75 622.5 385.79 623.5 385.82 624.5 385.86 625.5 385.9 626.5 385.93 627.5 385.97 628.5 386.01 629.5 386.04 630.5 386.08 631.5 386.12 632.5 386.15 633.5 386.19 634.5 386.23 635.5 386.27 636.5 386.3 637.5 386.34 638.5 386.38 639.5 386.42 640.5 386.46 641.5 386.49 642.5 386.53 643.5 386.57 644.5 386.61 645.5 386.65 646.5 386.69 647.5 386.72 648.5 386.76 649.5 386.8 650.5 386.84 651.5 386.88 652.5 386.92 653.5 386.95 654.5 386.99 655.5 387.03 656.5 387.07 657.5 387.11 658.5 387.15 659.5 387.18 660.5 387.22 661.5 387.26 662.5 387.3 663.5 387.34 664.5 387.38 665.5 387.41 666.5 387.45 667.5 387.49 668.5 387.53 669.5 387.56 670.5 387.6 671.5 387.64 672.5 387.68 673.5 387.71 674.5 387.75 675.5 387.79 676.5 387.83 677.5 387.86" stroke="#0000ff"/>
<path d="M57.5 406 58.5 406 59.5 405.97 60.5 405.91 61.5 405.87 62.5 405.83 63.5 405.8 64.5 405.77 65.5 405.75 66.5 405.74 67.5 405.73 68.5 405.73 69.5 405.73 70.5 405.74 71.5 405.75 72.5 405.76 73.5 405.78 74.5 405.8 75.5 405.82 76.5 405.84 77.5 405.87 78.5 405.89 79.5 405.92 80.5 405.94 81.5 405.96 82.5 405.99 83.5 406 84.5 406 85.5 406 86.5 406 87.5 406 88.5 406 89.5 406 90.5 406 91.5 406 92.5 406 93.5 406 94.5 405.98 95.5 405.95 96.5 405.9 97.5 405.85 98.5 405.79 99.5 405.72 100.5 405.64 101.5 405.55 102.5 405.45 103.5 405.35 104.5 405.23 105.5 405.1 106.5 404.97 107.5 404.82 108.5 404.67 109.5 404.51 110.5 404.33 111.5 404.15 112.5 403.96 113.5 403.76 114.5 403.55 115.5 403.33 116.5 403.1 117.5 402.86 118.5 402.62 119.5 402.36 120.5 402.09 121.5 401.82 122.5 401.53 123.5 401.23 124.5 400.93 125.5 400.61 126.5 400.29 127.5 399.96 128.5 399.61 129.5 399.26 130.5 398.9 131.5 398.53 132.5 398.14 133.5 397.75 134.5 397.35 135.5 396.94 136.5 396.52 137.5 396.09 138.5 395.65 139.5 395.2 140.5 394.74 141.5 394.27 142.5 393.79 143.5 393.31 144.5 392.81 145.5 392.3 146.5 391.78 147.5 391.25 148.5 390.72 149.5 390.17 150.5 389.61 151.5 389.05 152.5 388.47 153.5 387.88 154.5 387.28 155.5 386.68 156.5 386.06 157.5 385.43 158.5 384.8 159.5 384.15 160.5 383.5 161.5 382.83 162.5 382.15 163.5 381.46 164.5 380.77 165.5 380.06 166.5 379.34 167.5 378.61 168.5 377.87 169.5 377.12 170.5 376.35 171.5 375.58 172.5 374.79 173.5 373.99 174.5 373.18 175.5 372.36 176.5 371.53 177.5 370.68 178.5 369.83 179.5 368.96 180.5 368.07 181.5 367.18 182.5 366.27 183.5 365.35 184.5 364.42 185.5 363.47 186.5 362.51 187.5 361.54 188.5 360.56 189.5 359.57 190.5 358.56 191.5 357.54 192.5 356.51 193.5 355.48 194.5 354.43 195.5 353.37 196.5 352.31 197.5 351.23 198.5 350.15 199.5 349.07 200.5 347.97 201.5 346.88 202.5 345.77 203.5 344.66 204.5 343.55 205.5 342.44 206.5 341.32 207.5 340.2 208.5 339.08 209.5 337.97 210.5 336.85 211.5 335.74 212.5 334.63 213.5 333.52 214.5 332.42 215.5 331.33 216.5 330.24 217.5 329.17 218.5 328.1 219.5 327.04 220.5 325.99 221.5 324.95 222.5 323.93 223.5 322.92 224.5 321.92 225.5 320.94 226.5 319.97 227.5 319.02 228.5 318.09 229.5 317.18 230.5 316.29 231.5 315.42 232.5 314.57 233.5 313.75 234.5 312.94 235.5 312.16 236.5 311.41 237.5 310.68 238.5 309.98 239.5 309.31 240.5 308.67 241.5 308.05 242.5 307.47 243.5 306.92 244.5 306.4 245.5 305.92 246.5 305.46 247.5 305.03 248.5 304.64 249.5 304.27 250.5 303.93 251.5 303.61 252.5 303.32 253.5 303.06 254.5 302.81 255.5 302.59 256.5 302.4 257.5 302.22 258.5 302.06 259.5 301.92 260.5 301.8 261.5 301.7 262.5 301.61 263.5 301.53 264.5 301.48 265.5 301.43 266.5 301.39 267.5 301.37 268.5 301.36 269.5 301.36 270.5 301.36 271.5 301.37 272.5 301.39 273.5 301.42 274.5 301.45 275.5 301.49 276.5 301.54 277.5 301.59 278.5 301.65 279.5 301.71 280.5 301.78 281.5 301.86 282.5 301.94 283.5 302.02 284.5 302.12 285.5 302.21 286.5 302.31 287.5 302.42 288.5 302.53 289.5 302.65 290.5 302.76 291.5 302.89 292.5 303.02 293.5 303.15 294.5 303.28 295.5 303.42 296.5 303.56 297.5 303.71 298.5 303.86 299.5 304.01 300.5 304.16 301.5 304.32 302.5 304.48 303.5 304.64 304.5 304.8 305.5 304.97 306.5 305.14 307.5 305.31 308.5 305.48 309.5 305.65 310.5 305.83 311.5 306.01 312.5 306.19 313.5 306.37 314.5 306.55 315.5 306.73 316.5 306.92 317.5 307.11 318.5 307.29 319.5 307.48 320.5 307.68 321.5 307.87 322.5 308.06 323.5 308.26 324.5 308.45 325.5 308.65 326.5 308.85 327.5 309.05 328.5 309.25 329.5 309.45 330.5 309.65 331.5 309.86 332.5 310.06 333.5 310.27 334.5 310.47 335.5 310.68 336.5 310.89 337.5 311.09 338.5 311.3 339.5 311.51 340.5 311.72 341.5 311.93 342.5 312.14 343.5 312.35 344.5 312.56 345.5 312.77 346.5 312.98 347.5 313.2 348.5 313.41 349.5 313.62 350.5 313.83 351.5 314.04 352.5 314.25 353.5 314.46 354.5 314.68 355.5 314.89 356.5 315.1 357.5 315.31 358.5 315.52 359.5 315.73 360.5 315.94 361.5 316.15 362.5 316.36 363.5 316.56 364.5 316.77 365.5 316.98 366.5 317.18 367.5 317.39 368.5 317.59 369.5 317.8 370.5 318 371.5 318.21 372.5 318.41 373.5 318.61 374.5 318.81 375.5 319.01 376.5 319.21 377.5 319.41 378.5 319.61 379.5 319.81 380.5 320.01 381.5 320.21 382.5 320.4 383.5 320.6 384.5 320.8 385.5 320.99 386.5 321.19 387.5 321.38 388.5 321.57 389.5 321.77 390.5 321.96 391.5 322.15 392.5 322.34 393.5 322.53 394.5 322.72 395.5 322.91 396.5 323.1 397.5 323.29 398.5 323.48 399.5 323.67 400.5 323.85 401.5 324.04 402.5 324.23 403.5 324.41 404.5 324.6 405.5 324.78 406.5 324.96 407.5 325.15 408.5 325.33 409.5 325.51 410.5 325.69 411.5 325.88 412.5 326.06 413.5 326.24 414.5 326.42 415.5 326.59 416.5 326.77 417.5 326.95 418.5 327.13 419.5 327.3 420.5 327.48 421.5 327.66 422.5 327.83 423.5 328.01 424.5 328.18 425.5 328.35 426.5 328.53 427.5 328.7 428.5 328.87 429.5 329.04 430.5 329.22 431.5 329.39 432.5 329.56 433.5 329.73 434.5 329.9 435.5 330.06 436.5 330.23 437.5 330.4 438.5 330.57 439.5 330.73 440.5 330.9 441.5 331.07 442.5 331.23 443.5 331.4 444.5 331.56 445.5 331.72 446.5 331.89 447.5 332.05 448.5 332.21 449.5 332.37 450.5 332.54 451.5 332.7 452.5 332.86 453.5 333.02 454.5 333.18 455.5 333.33 456.5 333.49 457.5 333.65 458.5 333.81 459.5 333.97 460.5 334.12 461.5 334.28 462.5 334.43 463.5 334.59 464.5 334.74 465.5 334.9 466.5 335.05 467.5 335.2 468.5 335.36 469.5 335.51 470.5 335.66 471.5 335.81 472.5 335.96 473.5 336.11 474.5 336.26 475.5 336.41 476.5 336.56 477.5 336.71 478.5 336.86 479.5 337.01 480.5 337.16 481.5 337.3 482.5 337.45 483.5 337.59 484.5 337.74 485.5 337.89 486.5 338.03 487.5 338.17 488.5 338.32 489.5 338.46 490.5 338.6 491.5 338.75 492.5 338.89 493.5 339.03 494.5 339.17 495.5 339.31 496.5 339.45 497.5 339.59 498.5 339.73 499.5 339.87 500.5 340.01 501.5 340.15 502.5 340.29 503.5 340.42 504.5 340.56 505.5 340.7 506.5 340.83 507.5 340.97 508.5 341.11 509.5 341.24 510.5 341.37 511.5 341.51 512.5 341.64 513.5 341.78 514.5 341.91 515.5 342.04 516.5 342.17 517.5 342.31 518.5 342.44 519.5 342.57 520.5 342.7 521.5 342.83 522.5 342.96 523.5 343.09 524.5 343.22 525.5 343.34 526.5 343.47 527.5 343.6 528.5 343.73 529.5 343.85 530.5 343.98 531.5 344.11 532.5 344.23 533.5 344.36 534.5 344.48 535.5 344.61 536.5 344.73 537.5 344.86 538.5 344.98 539.5 345.1 540.5 345.23 541.5 345.35 542.5 345.47 543.5 345.59 544.5 345.71 545.5 345.84 546.5 345.96 547.5 346.08 548.5 346.2 549.5 346.32 550.5 346.43 551.5 346.55 552.5 346.67 553.5 346.79 554.5 346.91 555.5 347.03 556.5 347.14 557.5 347.26 558.5 347.37 559.5 347.49 560.5 347.61 561.5 347.72 562.5 347.84 563.5 347.95 564.5 348.07 565.5 348.18 566.5 348.29 567.5 348.41 568.5 348.52 569.5 348.63 570.5 348.74 571.5 348.86 572.5 348.97 573.5 349.08 574.5 349.19 575.5 349.3 576.5 349.41 577.5 349.52 578.5 349.63 579.5 349.74 580.5 349.85 581.5 349.96 582.5 350.06 583.5 350.17 584.5 350.28 585.5 350.39 586.5 350.49 587.5 350.6 588.5 350.71 589.5 350.81 590.5 350.92 591.5 351.02 592.5 351.13 593.5 351.23 594.5 351.34 595.5 351.44 596.5 351.55 597.5 351.65 598.5 351.75 599.5 351.86 600.5 351.96 601.5 352.06 602.5 352.16 603.5 352.27 604.5 352.37 605.5 352.47 606.5 352.57 607.5 352.67 608.5 352.77 609.5 352.87 610.5 352.97 611.5 353.07 612.5 353.17 613.5 353.27 614.5 353.37 615.5 353.46 616.5 353.56 617.5 353.66 618.5 353.76 619.5 353.86 620.5 353.95 621.5 354.05 622.5 354.15 623.5 354.24 624.5 354.34 625.5 354.43 626.5 354.53 627.5 354.62 628.5 354.72 629.5 354.81 630.5 354.91 631.5 355 632.5 355.09 633.5 355.19 634.5 355.28 635.5 355.37 636.5 355.47 637.5 355.56 638.5 355.65 639.5 355.74 640.5 355.84 641.5 355.93 642.5 356.02 643.5 356.11 644.5 356.2 645.5 356.29 646.5 356.38 647.5 356.47 648.5 356.56 649.5 356.65 650.5 356.74 651.5 356.83 652.5 356.92 653.5 357.01 654.5 357.09 655.5 357.18 656.5 357.27 657.5 357.36 658.5 357.44 659.5 357.53 660.5 357.62 661.5 357.71 662.5 357.79 663.5 357.88 664.5 357.96 665.5 358.05 666.5 358.14 667.5 358.22 668.5 358.31 669.5 358.39 670.5 358.48 671.5 358.56 672.5 358.65 673.5 358.73 674.5 358.81 675.5 358.9 676.5 358.98 677.5 359.06" stroke="#ff8000"/>
<path d="M57.5 406 58.5 406 59.5 406 60.5 406 61.5 406 62.5 406 63.5 406 64.5 406 65.5 406 66.5 406 67.5 406 68.5 406 69.5 406 70.5 406 71.5 406 72.5 406 73.5 406 74.5 406 75.5 406 76.5 406 77.5 406 78.5 406 79.5 406 80.5 406 81.5 405.99 82.5 405.98 83.5 405.97 84.5 405.96 85.5 405.96 86.5 405.95 87.5 405.94 88.5 405.93 89.5 405.93 90.5 405.92 91.5 405.91 92.5 405.91 93.5 405.9 94.5 405.9 95.5 405.89 96.5 405.89 97.5 405.88 98.5 405.88 99.5 405.87 100.5 405.87 101.5 405.86 102.5 405.86 103.5 405.86 104.5 405.85 105.5 405.85 106.5 405.85 107.5 405.84 108.5 405.84 109.5 405.84 110.5 405.84 111.5 405.83 112.5 405.83 113.5 405.83 114.5 405.83 115.5 405.83 116.5 405.83 117.5 405.83 118.5 405.83 119.5 405.83 120.5 405.83 121.5 405.82 122.5 405.82 123.5 405.83 124.5 405.83 125.5 405.83 126.5 405.83 127.5 405.83 128.5 405.83 129.5 405.83 130.5 405.83 131.5 405.83 132.5 405.83 133.5 405.84 134.5 405.84 135.5 405.84 136.5 405.84 137.5 405.84 138.5 405.85 139.5 405.85 140.5 405.85 141.5 405.85 142.5 405.86 143.5 405.86 144.5 405.86 145.5 405.87 146.5 405.87 147.5 405.87 148.5 405.87 149.5 405.88 150.5 405.88 151.5 405.89 152.5 405.89 153.5 405.89 154.5 405.9 155.5 405.9 156.5 405.91 157.5 405.91 158.5 405.91 159.5 405.92 160.5 405.92 161.5 405.93 162.5 405.93 163.5 405.94 164.5 405.94 165.5 405.94 166.5 405.95 167.5 405.95 168.5 405.96 169.5 405.96 170.5 405.97 171.5 405.97 172.5 405.98 173.5 405.98 174.5 405.99 175.5 405.99 176.5 406 177.5 406 178.5 406 179.5 406 180.5 406 181.5 406 182.5 406 183.5 406 184.5 406 185.5 406 186.5 406 187.5 406 188.5 406 189.5 406 190.5 406 191.5 406 192.5 406 193.5 406 194.5 406 195.5 406 196.5 406 197.5 406 198.5 406 199.5 406 200.5 406 201.5 406 202.5 406 203.5 406 204.5 406 205.5 406 206.5 406 207.5 406 208.5 406 209.5 406 210.5 406 211.5 406 212.5 406 213.5 406 214.5 406 215.5 406 216.5 406 217.5 406 218.5 406 219.5 406 220.5 406 221.5 406 222.5 406 223.5 406 224.5 406 225.5 406 226.5 406 227.5 406 228.5 406 229.5 406 230.5 406 231.5 406 232.5 406 233.5 406 234.5 406 235.5 406 236.5 406 237.5 406 238.5 406 239.5 406 240.5 406 241.5 406 242.5 406 243.5 406 244.5 406 245.5 406 246.5 406 247.5 406 248.5 406 249.5 406 250.5 406 251.5 406 252.5 406 253.5 406 254.5 406 255.5 406 256.5 406 257.5 406 258.5 406 259.5 406 260.5 406 261.5 406 262.5 406 263.5 406 264.5 406 265.5 406 266.5 406 267.5 406 268.5 406 269.5 406 270.5 406 271.5 406 272.5 406 273.5 406 274.5 406 275.5 406 276.5 406 277.5 406 278.5 406 279.5 406 280.5 406 281.5 406 282.5 406 283.5 406 284.5 406 285.5 406 286.5 406 287.5 406 288.5 406 289.5 406 290.5 406 291.5 405.99 292.5 405.98 293.5 405.97 294.5 405.96 295.5 405.95 296.5 405.93 297.5 405.92 298.5 405.91 299.5 405.9 300.5 405.88 301.5 405.87 302.5 405.85 303.5 405.84 304.5 405.82 305.5 405.81 306.5 405.79 307.5 405.78 308.5 405.76 309.5 405.74 310.5 405.73 311.5 405.71 312.5 405.69 313.5 405.68 314.5 405.66 315.5 405.64 316.5 405.62 317.5 405.6 318.5 405.58 319.5 405.56 320.5 405.54 321.5 405.52 322.5 405.5 323.5 405.48 324.5 405.45 325.5 405.43 326.5 405.41 327.5 405.39 328.5 405.36 329.5 405.34 330.5 405.31 331.5 405.29 332.5 405.26 333.5 405.24 334.5 405.21 335.5 405.18 336.5 405.15 337.5 405.12 338.5 405.08 339.5 405.05 340.5 405.01 341.5 404.96 342.5 404.92 343.5 404.87 344.5 404.82 345.5 404.76 346.5 404.7 347.5 404.64 348.5 404.57 349.5 404.49 350.5 404.41 351.5 404.33 352.5 404.24 353.5 404.14 354.5 404.04 355.5 403.94 356.5 403.82 357.5 403.7 358.5 403.57 359.5 403.44 360.5 403.3 361.5 403.15 362.5 402.99 363.5 402.82 364.5 402.65 365.5 402.47 366.5 402.28 367.5 402.08 368.5 401.87 369.5 401.65 370.5 401.42 371.5 401.18 372.5 400.93 373.5 400.67 374.5 400.4 375.5 400.12 376.5 399.82 377.5 399.52 378.5 399.2 379.5 398.87 380.5 398.53 381.5 398.18 382.5 397.82 383.5 397.44 384.5 397.05 385.5 396.65 386.5 396.23 387.5 395.8 388.5 395.36 389.5 394.91 390.5 394.44 391.5 393.96 392.5 393.47 393.5 392.96 394.5 392.44 395.5 391.91 396.5 391.36 397.5 390.8 398.5 390.23 399.5 389.64 400.5 389.04 401.5 388.42 402.5 387.79 403.5 387.14 404.5 386.48 405.5 385.8 406.5 385.11 407.5 384.4 408.5 383.67 409.5 382.93 410.5 382.17 411.5 381.39 412.5 380.59 413.5 379.77 414.5 378.94 415.5 378.09 416.5 377.23 417.5 376.34 418.5 375.44 419.5 374.53 420.5 373.6 421.5 372.66 422.5 371.7 423.5 370.73 424.5 369.75 425.5 368.75 426.5 367.74 427.5 366.73 428.5 365.7 429.5 364.66 430.5 363.61 431.5 362.56 432.5 361.49 433.5 360.42 434.5 359.34 435.5 358.25 436.5 357.16 437.5 356.06 438.5 354.96 439.5 353.85 440.5 352.74 441.5 351.63 442.5 350.51 443.5 349.39 444.5 348.26 445.5 347.14 446.5 346.01 447.5 344.89 448.5 343.76 449.5 342.64 450.5 341.51 451.5 340.39 452.5 339.27 453.5 338.16 454.5 337.05 455.5 335.94 456.5 334.84 457.5 333.74 458.5 332.65 459.5 331.56 460.5 330.48 461.5 329.41 462.5 328.35 463.5 327.3 464.5 326.25 465.5 325.22 466.5 324.2 467.5 323.19 468.5 322.18 469.5 321.2 470.5 320.22 471.5 319.26 472.5 318.31 473.5 317.38 474.5 316.46 475.5 315.56 476.5 314.67 477.5 313.8 478.5 312.95 479.5 312.11 480.5 311.3 481.5 310.5 482.5 309.72 483.5 308.96 484.5 308.21 485.5 307.48 486.5 306.77 487.5 306.08 488.5 305.4 489.5 304.74 490.5 304.09 491.5 303.46 492.5 302.85 493.5 302.25 494.5 301.67 495.5 301.1 496.5 300.55 497.5 300.01 498.5 299.49 499.5 298.98 500.5 298.48 501.5 298 502.5 297.53 503.5 297.08 504.5 296.64 505.5 296.21 506.5 295.79 507.5 295.39 508.5 295 509.5 294.62 510.5 294.26 511.5 293.9 512.5 293.56 513.5 293.23 514.5 292.91 515.5 292.6 516.5 292.3 517.5 292.01 518.5 291.73 519.5 291.47 520.5 291.21 521.5 290.96 522.5 290.72 523.5 290.49 524.5 290.27 525.5 290.06 526.5 289.86 527.5 289.67 528.5 289.48 529.5 289.3 530.5 289.13 531.5 288.97 532.5 288.82 533.5 288.67 534.5 288.53 535.5 288.39 536.5 288.27 537.5 288.14 538.5 288.03 539.5 287.92 540.5 287.82 541.5 287.72 542.5 287.63 543.5 287.54 544.5 287.46 545.5 287.38 546.5 287.31 547.5 287.24 548.5 287.18 549.5 287.12 550.5 287.06 551.5 287.01 552.5 286.96 553.5 286.92 554.5 286.88 555.5 286.85 556.5 286.82 557.5 286.79 558.5 286.77 559.5 286.75 560.5 286.74 561.5 286.73 562.5 286.72 563.5 286.72 564.5 286.72 565.5 286.72 566.5 286.73 567.5 286.74 568.5 286.75 569.5 286.77 570.5 286.79 571.5 286.81 572.5 286.84 573.5 286.87 574.5 286.91 575.5 286.94 576.5 286.98 577.5 287.02 578.5 287.07 579.5 287.12 580.5 287.17 581.5 287.22 582.5 287.28 583.5 287.34 584.5 287.4 585.5 287.46 586.5 287.53 587.5 287.6 588.5 287.67 589.5 287.75 590.5 287.82 591.5 287.9 592.5 287.98 593.5 288.06 594.5 288.15 595.5 288.23 596.5 288.32 597.5 288.41 598.5 288.51 599.5 288.6 600.5 288.7 601.5 288.8 602.5 288.9 603.5 289 604.5 289.1 605.5 289.2 606.5 289.31 607.5 289.42 608.5 289.52 609.5 289.63 610.5 289.74 611.5 289.86 612.5 289.97 613.5 290.08 614.5 290.2 615.5 290.32 616.5 290.43 617.5 290.55 618.5 290.67 619.5 290.79 620.5 290.91 621.5 291.03 622.5 291.16 623.5 291.28 624.5 291.4 625.5 291.52 626.5 291.65 627.5 291.77 628.5 291.9 629.5 292.02 630.5 292.15 631.5 292.27 632.5 292.4 633.5 292.52 634.5 292.65 635.5 292.78 636.5 292.9 637.5 293.03 638.5 293.15 639.5 293.28 640.5 293.4 641.5 293.52 642.5 293.65 643.5 293.77 644.5 293.89 645.5 294.02 646.5 294.14 647.5 294.26 648.5 294.38 649.5 294.5 650.5 294.62 651.5 294.74 652.5 294.85 653.5 294.97 654.5 295.08 655.5 295.2 656.5 295.31 657.5 295.42 658.5 295.53 659.5 295.64 660.5 295.75 661.5 295.86 662.5 295.96 663.5 296.07 664.5 296.17 665.5 296.27 666.5 296.37 667.5 296.46 668.5 296.56 669.5 296.65 670.5 296.74 671.5 296.83 672.5 296.92 673.5 297.01 674.5 297.09 675.5 297.17 676.5 297.25 677.5 297.33" stroke="#ff0000"/>
</g>
<path d="M57.5 406v2.3M98.83 406v4M140.17 406v2.3M181.5 406v4M222.83 406v2.3M264.17 406v4M305.5 406v2.3M346.83 406v4M388.17 406v2.3M429.5 406v4M470.83 406v2.3M512.17 406v4M553.5 406v2.3M594.83 406v4M636.17 406v2.3M677.5 406v4M57.5 406h-4M57.5 383.5h-2.3M57.5 361h-4M57.5 338.5h-2.3M57.5 316h-4M57.5 293.5h-2.3M57.5 271h-4M57.5 248.5h-2.3" stroke="#1e1e1e" stroke-width="1" fill="none"/>
<rect x="57.5" y="248.5" width="620.0" height="157.5" fill="none" stroke="#1e1e1e" stroke-width="1.1"/>
<g font-family='"Liberation Serif", serif' font-size="16.9" fill="#111" lengthAdjust="spacingAndGlyphs">
<text x="98.83" y="430.1" text-anchor="middle" textLength="7.75" lengthAdjust="spacingAndGlyphs">5</text>
<text x="181.5" y="430.1" text-anchor="middle" textLength="15.5" lengthAdjust="spacingAndGlyphs">10</text>
<text x="264.17" y="430.1" text-anchor="middle" textLength="15.5" lengthAdjust="spacingAndGlyphs">15</text>
<text x="346.83" y="430.1" text-anchor="middle" textLength="15.5" lengthAdjust="spacingAndGlyphs">20</text>
<text x="429.5" y="430.1" text-anchor="middle" textLength="15.5" lengthAdjust="spacingAndGlyphs">25</text>
<text x="512.17" y="430.1" text-anchor="middle" textLength="15.5" lengthAdjust="spacingAndGlyphs">30</text>
<text x="594.83" y="430.1" text-anchor="middle" textLength="15.5" lengthAdjust="spacingAndGlyphs">35</text>
<text x="677.5" y="430.1" text-anchor="middle" textLength="15.5" lengthAdjust="spacingAndGlyphs">40</text>
<text x="45.3" y="411.7" text-anchor="end" textLength="7.75" lengthAdjust="spacingAndGlyphs">0</text>
<text x="45.3" y="366.7" text-anchor="end" textLength="15.5" lengthAdjust="spacingAndGlyphs">50</text>
<text x="45.3" y="321.7" text-anchor="end" textLength="23.25" lengthAdjust="spacingAndGlyphs">100</text>
<text x="45.3" y="276.7" text-anchor="end" textLength="23.25" lengthAdjust="spacingAndGlyphs">150</text>
</g>
<text x="333.4" y="450" font-family='"Liberation Serif", serif' font-style="italic" font-size="18" fill="#111" textLength="13" lengthAdjust="spacingAndGlyphs">E</text>
<text x="353.4" y="450" font-family='"Liberation Serif", serif' font-size="18" fill="#111" textLength="47.8" lengthAdjust="spacingAndGlyphs">(MeV)</text>
<g transform="translate(13.9,327.25) rotate(-90)" font-family='"Liberation Serif", serif' font-size="18" fill="#111">
<path d="M-27.4 -13.9L-31.8 -4.95L-27.4 4M-15.5 -13.9L-11.1 -4.95L-15.5 4" fill="none" stroke="#111" stroke-width="0.8"/>
<text x="-25.9" y="0" font-style="italic" textLength="9" lengthAdjust="spacingAndGlyphs">σ</text>
<text x="-1.4" y="0" textLength="33.2" lengthAdjust="spacingAndGlyphs">(mb)</text>
</g>
<text x="71.95" y="238.7" font-family='"Liberation Serif", serif' font-weight="bold" font-size="21" fill="#000">(b)</text>
<rect x="64.9" y="255.7" width="77.1" height="83.7" rx="2.6" fill="#fff" stroke="#8a8a8a" stroke-width="1.3"/>
<path d="M70.2 268.1H90.2" stroke="#800080" stroke-width="1.7"/>
<text x="94.7" y="266.4" font-family='"Liberation Serif", serif' font-size="10.8" fill="#111" textLength="15.0" lengthAdjust="spacingAndGlyphs">177</text>
<text x="111.2" y="271.6" font-family='"Liberation Serif", serif' font-size="15.6" fill="#111" textLength="18.6" lengthAdjust="spacingAndGlyphs">Yb</text>
<path d="M70.2 288.2H90.2" stroke="#0000ff" stroke-width="1.7"/>
<text x="94.7" y="286.5" font-family='"Liberation Serif", serif' font-size="10.8" fill="#111" textLength="15.0" lengthAdjust="spacingAndGlyphs">177</text>
<text x="111.5" y="291.7" font-family='"Liberation Serif", serif' font-size="15.6" fill="#111" textLength="16.6" lengthAdjust="spacingAndGlyphs">Lu</text>
<path d="M70.2 308.3H90.2" stroke="#ff8000" stroke-width="1.7"/>
<text x="94.7" y="306.6" font-family='"Liberation Serif", serif' font-size="10.8" fill="#111" textLength="24.2" lengthAdjust="spacingAndGlyphs">176m</text>
<text x="119.9" y="311.8" font-family='"Liberation Serif", serif' font-size="15.6" fill="#111" textLength="16.6" lengthAdjust="spacingAndGlyphs">Lu</text>
<path d="M70.2 328.4H90.2" stroke="#ff0000" stroke-width="1.7"/>
<text x="94.7" y="326.7" font-family='"Liberation Serif", serif' font-size="10.8" fill="#111" textLength="24.2" lengthAdjust="spacingAndGlyphs">174m</text>
<text x="119.9" y="331.9" font-family='"Liberation Serif", serif' font-size="15.6" fill="#111" textLength="16.6" lengthAdjust="spacingAndGlyphs">Lu</text>
<clipPath id="clip2"><rect x="57.5" y="472.5" width="620.0" height="157.89999999999998"/></clipPath>
<path d="M98.83 472.5V630.4M181.5 472.5V630.4M264.17 472.5V630.4M346.83 472.5V630.4M429.5 472.5V630.4M512.17 472.5V630.4M594.83 472.5V630.4M677.5 472.5V630.4M57.5 630.4H677.5M57.5 595.31H677.5M57.5 560.22H677.5M57.5 525.13H677.5M57.5 490.04H677.5" stroke="#e2e2e2" stroke-width="0.9" fill="none"/>
<g clip-path="url(#clip2)" fill="none" stroke-width="1.95" stroke-linejoin="round">
<path d="M53.95 630.4 54.95 630.39 55.95 630.39 56.95 630.39 57.95 630.4 58.95 630.4 59.95 630.4 60.95 630.4 61.95 630.4 62.95 630.4 63.95 630.4 64.95 630.4 65.95 630.4 66.95 630.4 67.95 630.4 68.95 630.4 69.95 630.4 70.95 630.4 71.95 630.4 72.95 630.4 73.95 630.4 74.95 630.4 75.95 630.4 76.95 630.4 77.95 630.4 78.95 630.39 79.95 630.36 80.95 630.32 81.95 630.28 82.95 630.23 83.95 630.17 84.95 630.11 85.95 630.04 86.95 629.96 87.95 629.88 88.95 629.78 89.95 629.68 90.95 629.57 91.95 629.45 92.95 629.31 93.95 629.17 94.95 629.01 95.95 628.85 96.95 628.67 97.95 628.48 98.95 628.27 99.95 628.05 100.95 627.82 101.95 627.57 102.95 627.31 103.95 627.04 104.95 626.74 105.95 626.44 106.95 626.11 107.95 625.77 108.95 625.41 109.95 625.03 110.95 624.64 111.95 624.23 112.95 623.79 113.95 623.34 114.95 622.87 115.95 622.37 116.95 621.86 117.95 621.32 118.95 620.77 119.95 620.19 120.95 619.59 121.95 618.96 122.95 618.31 123.95 617.64 124.95 616.94 125.95 616.22 126.95 615.47 127.95 614.7 128.95 613.9 129.95 613.07 130.95 612.22 131.95 611.34 132.95 610.43 133.95 609.5 134.95 608.54 135.95 607.56 136.95 606.55 137.95 605.52 138.95 604.47 139.95 603.41 140.95 602.32 141.95 601.22 142.95 600.1 143.95 598.97 144.95 597.83 145.95 596.68 146.95 595.52 147.95 594.34 148.95 593.16 149.95 591.98 150.95 590.79 151.95 589.6 152.95 588.4 153.95 587.2 154.95 586.01 155.95 584.81 156.95 583.62 157.95 582.43 158.95 581.25 159.95 580.07 160.95 578.9 161.95 577.75 162.95 576.6 163.95 575.46 164.95 574.34 165.95 573.23 166.95 572.14 167.95 571.06 168.95 570.01 169.95 568.97 170.95 567.96 171.95 566.97 172.95 566 173.95 565.07 174.95 564.16 175.95 563.28 176.95 562.43 177.95 561.61 178.95 560.83 179.95 560.09 180.95 559.38 181.95 558.71 182.95 558.08 183.95 557.49 184.95 556.94 185.95 556.43 186.95 555.95 187.95 555.5 188.95 555.09 189.95 554.71 190.95 554.36 191.95 554.05 192.95 553.76 193.95 553.5 194.95 553.27 195.95 553.07 196.95 552.89 197.95 552.74 198.95 552.61 199.95 552.51 200.95 552.43 201.95 552.37 202.95 552.33 203.95 552.32 204.95 552.32 205.95 552.35 206.95 552.39 207.95 552.46 208.95 552.54 209.95 552.64 210.95 552.76 211.95 552.9 212.95 553.05 213.95 553.22 214.95 553.4 215.95 553.6 216.95 553.81 217.95 554.04 218.95 554.28 219.95 554.53 220.95 554.8 221.95 555.08 222.95 555.36 223.95 555.66 224.95 555.97 225.95 556.29 226.95 556.62 227.95 556.96 228.95 557.3 229.95 557.65 230.95 558.01 231.95 558.38 232.95 558.75 233.95 559.13 234.95 559.51 235.95 559.9 236.95 560.29 237.95 560.68 238.95 561.07 239.95 561.47 240.95 561.87 241.95 562.27 242.95 562.67 243.95 563.08 244.95 563.48 245.95 563.88 246.95 564.27 247.95 564.67 248.95 565.06 249.95 565.46 250.95 565.84 251.95 566.23 252.95 566.61 253.95 567 254.95 567.38 255.95 567.75 256.95 568.13 257.95 568.5 258.95 568.87 259.95 569.24 260.95 569.6 261.95 569.96 262.95 570.33 263.95 570.68 264.95 571.04 265.95 571.39 266.95 571.75 267.95 572.09 268.95 572.44 269.95 572.79 270.95 573.13 271.95 573.47 272.95 573.81 273.95 574.15 274.95 574.48 275.95 574.81 276.95 575.14 277.95 575.47 278.95 575.8 279.95 576.12 280.95 576.44 281.95 576.76 282.95 577.08 283.95 577.4 284.95 577.71 285.95 578.02 286.95 578.33 287.95 578.64 288.95 578.95 289.95 579.25 290.95 579.55 291.95 579.85 292.95 580.15 293.95 580.45 294.95 580.74 295.95 581.03 296.95 581.32 297.95 581.61 298.95 581.9 299.95 582.19 300.95 582.47 301.95 582.75 302.95 583.03 303.95 583.31 304.95 583.58 305.95 583.86 306.95 584.13 307.95 584.4 308.95 584.67 309.95 584.94 310.95 585.21 311.95 585.47 312.95 585.73 313.95 586 314.95 586.26 315.95 586.51 316.95 586.77 317.95 587.02 318.95 587.28 319.95 587.53 320.95 587.78 321.95 588.03 322.95 588.28 323.95 588.52 324.95 588.76 325.95 589.01 326.95 589.25 327.95 589.49 328.95 589.73 329.95 589.96 330.95 590.2 331.95 590.43 332.95 590.66 333.95 590.9 334.95 591.13 335.95 591.35 336.95 591.58 337.95 591.81 338.95 592.03 339.95 592.25 340.95 592.48 341.95 592.7 342.95 592.92 343.95 593.13 344.95 593.35 345.95 593.57 346.95 593.78 347.95 593.99 348.95 594.2 349.95 594.42 350.95 594.62 351.95 594.83 352.95 595.04 353.95 595.25 354.95 595.45 355.95 595.65 356.95 595.86 357.95 596.06 358.95 596.26 359.95 596.46 360.95 596.66 361.95 596.85 362.95 597.05 363.95 597.25 364.95 597.44 365.95 597.63 366.95 597.83 367.95 598.02 368.95 598.21 369.95 598.4 370.95 598.59 371.95 598.77 372.95 598.96 373.95 599.15 374.95 599.33 375.95 599.52 376.95 599.7 377.95 599.88 378.95 600.06 379.95 600.24 380.95 600.42 381.95 600.6 382.95 600.78 383.95 600.96 384.95 601.14 385.95 601.31 386.95 601.49 387.95 601.66 388.95 601.84 389.95 602.01 390.95 602.18 391.95 602.35 392.95 602.52 393.95 602.69 394.95 602.86 395.95 603.03 396.95 603.2 397.95 603.36 398.95 603.53 399.95 603.7 400.95 603.86 401.95 604.02 402.95 604.19 403.95 604.35 404.95 604.51 405.95 604.67 406.95 604.83 407.95 604.99 408.95 605.15 409.95 605.3 410.95 605.46 411.95 605.62 412.95 605.77 413.95 605.93 414.95 606.08 415.95 606.23 416.95 606.38 417.95 606.53 418.95 606.69 419.95 606.83 420.95 606.98 421.95 607.13 422.95 607.28 423.95 607.43 424.95 607.57 425.95 607.72 426.95 607.86 427.95 608.01 428.95 608.15 429.95 608.29 430.95 608.43 431.95 608.57 432.95 608.71 433.95 608.85 434.95 608.99 435.95 609.13 436.95 609.27 437.95 609.4 438.95 609.54 439.95 609.67 440.95 609.81 441.95 609.94 442.95 610.07 443.95 610.2 444.95 610.33 445.95 610.47 446.95 610.59 447.95 610.72 448.95 610.85 449.95 610.98 450.95 611.11 451.95 611.23 452.95 611.36 453.95 611.48 454.95 611.61 455.95 611.73 456.95 611.85 457.95 611.97 458.95 612.09 459.95 612.21 460.95 612.33 461.95 612.45 462.95 612.57 463.95 612.69 464.95 612.81 465.95 612.92 466.95 613.04 467.95 613.15 468.95 613.27 469.95 613.38 470.95 613.49 471.95 613.6 472.95 613.71 473.95 613.82 474.95 613.93 475.95 614.04 476.95 614.15 477.95 614.26 478.95 614.37 479.95 614.47 480.95 614.58 481.95 614.68 482.95 614.79 483.95 614.89 484.95 614.99 485.95 615.09 486.95 615.2 487.95 615.3 488.95 615.4 489.95 615.5 490.95 615.59 491.95 615.69 492.95 615.79 493.95 615.89 494.95 615.98 495.95 616.08 496.95 616.17 497.95 616.27 498.95 616.36 499.95 616.45 500.95 616.54 501.95 616.64 502.95 616.73 503.95 616.82 504.95 616.9 505.95 616.99 506.95 617.08 507.95 617.17 508.95 617.25 509.95 617.34 510.95 617.43 511.95 617.51 512.95 617.59 513.95 617.68 514.95 617.76 515.95 617.84 516.95 617.92 517.95 618 518.95 618.08 519.95 618.16 520.95 618.24 521.95 618.32 522.95 618.4 523.95 618.47 524.95 618.55 525.95 618.63 526.95 618.7 527.95 618.77 528.95 618.85 529.95 618.92 530.95 618.99 531.95 619.06 532.95 619.14 533.95 619.21 534.95 619.28 535.95 619.34 536.95 619.41 537.95 619.48 538.95 619.55 539.95 619.61 540.95 619.68 541.95 619.75 542.95 619.81 543.95 619.87 544.95 619.94 545.95 620 546.95 620.06 547.95 620.12 548.95 620.18 549.95 620.24 550.95 620.3 551.95 620.36 552.95 620.42 553.95 620.48 554.95 620.54 555.95 620.59 556.95 620.65 557.95 620.7 558.95 620.76 559.95 620.81 560.95 620.87 561.95 620.92 562.95 620.97 563.95 621.02 564.95 621.08 565.95 621.13 566.95 621.18 567.95 621.22 568.95 621.27 569.95 621.32 570.95 621.37 571.95 621.42 572.95 621.46 573.95 621.51 574.95 621.55 575.95 621.6 576.95 621.64 577.95 621.68 578.95 621.73 579.95 621.77 580.95 621.81 581.95 621.85 582.95 621.89 583.95 621.93 584.95 621.97 585.95 622.01 586.95 622.05 587.95 622.09 588.95 622.12 589.95 622.16 590.95 622.19 591.95 622.23 592.95 622.26 593.95 622.3 594.95 622.33 595.95 622.36 596.95 622.4 597.95 622.43 598.95 622.46 599.95 622.49 600.95 622.52 601.95 622.55 602.95 622.58 603.95 622.61 604.95 622.64 605.95 622.66 606.95 622.69 607.95 622.72 608.95 622.74 609.95 622.77 610.95 622.79 611.95 622.81 612.95 622.84 613.95 622.86 614.95 622.88 615.95 622.9 616.95 622.93 617.95 622.95 618.95 622.97 619.95 622.99 620.95 623 621.95 623.02 622.95 623.04 623.95 623.06 624.95 623.07 625.95 623.09 626.95 623.11 627.95 623.12 628.95 623.14 629.95 623.15 630.95 623.16 631.95 623.18 632.95 623.19 633.95 623.2 634.95 623.21 635.95 623.22 636.95 623.23 637.95 623.24 638.95 623.25 639.95 623.26 640.95 623.27 641.95 623.28 642.95 623.29 643.95 623.29 644.95 623.3 645.95 623.3 646.95 623.31 647.95 623.31 648.95 623.32 649.95 623.32 650.95 623.32 651.95 623.33 652.95 623.33 653.95 623.33 654.95 623.33 655.95 623.33 656.95 623.33 657.95 623.33 658.95 623.33 659.95 623.33 660.95 623.33 661.95 623.32 662.95 623.32 663.95 623.32 664.95 623.31 665.95 623.31 666.95 623.3 667.95 623.3 668.95 623.29 669.95 623.29 670.95 623.28 671.95 623.27 672.95 623.26 673.95 623.26 674.95 623.25 675.95 623.24 676.95 623.23" stroke="#800080" stroke-dasharray="10.7 2.47 2.0 2.47"/>
<path d="M53.95 630.1 54.95 630.13 55.95 630.17 56.95 630.21 57.95 630.24 58.95 630.27 59.95 630.31 60.95 630.34 61.95 630.37 62.95 630.4 63.95 630.4 64.95 630.4 65.95 630.4 66.95 630.4 67.95 630.4 68.95 630.4 69.95 630.4 70.95 630.4 71.95 630.4 72.95 630.4 73.95 630.4 74.95 630.4 75.95 630.4 76.95 630.4 77.95 630.4 78.95 630.4 79.95 630.4 80.95 630.4 81.95 630.4 82.95 630.4 83.95 630.4 84.95 630.4 85.95 630.4 86.95 630.4 87.95 630.4 88.95 630.4 89.95 630.4 90.95 630.4 91.95 630.4 92.95 630.4 93.95 630.4 94.95 630.4 95.95 630.4 96.95 630.4 97.95 630.4 98.95 630.4 99.95 630.4 100.95 630.4 101.95 630.4 102.95 630.4 103.95 630.4 104.95 630.4 105.95 630.4 106.95 630.4 107.95 630.4 108.95 630.4 109.95 630.4 110.95 630.4 111.95 630.4 112.95 630.4 113.95 630.4 114.95 630.4 115.95 630.39 116.95 630.37 117.95 630.34 118.95 630.32 119.95 630.29 120.95 630.26 121.95 630.23 122.95 630.2 123.95 630.17 124.95 630.14 125.95 630.11 126.95 630.08 127.95 630.05 128.95 630.01 129.95 629.98 130.95 629.95 131.95 629.91 132.95 629.88 133.95 629.84 134.95 629.81 135.95 629.77 136.95 629.73 137.95 629.69 138.95 629.66 139.95 629.62 140.95 629.58 141.95 629.54 142.95 629.5 143.95 629.46 144.95 629.42 145.95 629.38 146.95 629.34 147.95 629.3 148.95 629.26 149.95 629.21 150.95 629.17 151.95 629.13 152.95 629.09 153.95 629.04 154.95 629 155.95 628.96 156.95 628.92 157.95 628.87 158.95 628.83 159.95 628.78 160.95 628.74 161.95 628.7 162.95 628.65 163.95 628.61 164.95 628.57 165.95 628.52 166.95 628.48 167.95 628.44 168.95 628.4 169.95 628.35 170.95 628.31 171.95 628.27 172.95 628.23 173.95 628.19 174.95 628.14 175.95 628.1 176.95 628.06 177.95 628.02 178.95 627.98 179.95 627.94 180.95 627.91 181.95 627.87 182.95 627.83 183.95 627.79 184.95 627.76 185.95 627.72 186.95 627.68 187.95 627.65 188.95 627.62 189.95 627.58 190.95 627.55 191.95 627.52 192.95 627.49 193.95 627.46 194.95 627.43 195.95 627.4 196.95 627.37 197.95 627.34 198.95 627.32 199.95 627.29 200.95 627.27 201.95 627.24 202.95 627.22 203.95 627.2 204.95 627.18 205.95 627.16 206.95 627.14 207.95 627.12 208.95 627.1 209.95 627.08 210.95 627.07 211.95 627.05 212.95 627.04 213.95 627.02 214.95 627.01 215.95 627 216.95 626.98 217.95 626.97 218.95 626.96 219.95 626.95 220.95 626.94 221.95 626.93 222.95 626.92 223.95 626.92 224.95 626.91 225.95 626.9 226.95 626.9 227.95 626.89 228.95 626.89 229.95 626.88 230.95 626.88 231.95 626.87 232.95 626.87 233.95 626.87 234.95 626.87 235.95 626.86 236.95 626.86 237.95 626.86 238.95 626.86 239.95 626.86 240.95 626.86 241.95 626.86 242.95 626.86 243.95 626.86 244.95 626.86 245.95 626.87 246.95 626.87 247.95 626.87 248.95 626.87 249.95 626.88 250.95 626.88 251.95 626.88 252.95 626.89 253.95 626.89 254.95 626.89 255.95 626.9 256.95 626.9 257.95 626.91 258.95 626.91 259.95 626.92 260.95 626.92 261.95 626.93 262.95 626.93 263.95 626.94 264.95 626.94 265.95 626.95 266.95 626.95 267.95 626.96 268.95 626.96 269.95 626.97 270.95 626.97 271.95 626.98 272.95 626.98 273.95 626.99 274.95 626.99 275.95 627 276.95 627.01 277.95 627.01 278.95 627.02 279.95 627.02 280.95 627.03 281.95 627.03 282.95 627.04 283.95 627.05 284.95 627.05 285.95 627.06 286.95 627.07 287.95 627.07 288.95 627.08 289.95 627.08 290.95 627.09 291.95 627.1 292.95 627.1 293.95 627.11 294.95 627.12 295.95 627.12 296.95 627.13 297.95 627.14 298.95 627.14 299.95 627.15 300.95 627.16 301.95 627.16 302.95 627.17 303.95 627.18 304.95 627.18 305.95 627.19 306.95 627.2 307.95 627.2 308.95 627.21 309.95 627.22 310.95 627.23 311.95 627.23 312.95 627.24 313.95 627.25 314.95 627.26 315.95 627.26 316.95 627.27 317.95 627.28 318.95 627.28 319.95 627.29 320.95 627.3 321.95 627.31 322.95 627.31 323.95 627.32 324.95 627.33 325.95 627.34 326.95 627.35 327.95 627.35 328.95 627.36 329.95 627.37 330.95 627.38 331.95 627.38 332.95 627.39 333.95 627.4 334.95 627.41 335.95 627.42 336.95 627.42 337.95 627.43 338.95 627.44 339.95 627.45 340.95 627.46 341.95 627.46 342.95 627.47 343.95 627.48 344.95 627.49 345.95 627.5 346.95 627.5 347.95 627.51 348.95 627.52 349.95 627.53 350.95 627.54 351.95 627.55 352.95 627.55 353.95 627.56 354.95 627.57 355.95 627.58 356.95 627.59 357.95 627.6 358.95 627.61 359.95 627.61 360.95 627.62 361.95 627.63 362.95 627.64 363.95 627.65 364.95 627.66 365.95 627.67 366.95 627.67 367.95 627.68 368.95 627.69 369.95 627.7 370.95 627.71 371.95 627.72 372.95 627.73 373.95 627.73 374.95 627.74 375.95 627.75 376.95 627.76 377.95 627.77 378.95 627.78 379.95 627.79 380.95 627.8 381.95 627.8 382.95 627.81 383.95 627.82 384.95 627.83 385.95 627.84 386.95 627.85 387.95 627.86 388.95 627.87 389.95 627.88 390.95 627.88 391.95 627.89 392.95 627.9 393.95 627.91 394.95 627.92 395.95 627.93 396.95 627.94 397.95 627.95 398.95 627.96 399.95 627.96 400.95 627.97 401.95 627.98 402.95 627.99 403.95 628 404.95 628.01 405.95 628.02 406.95 628.03 407.95 628.04 408.95 628.05 409.95 628.05 410.95 628.06 411.95 628.07 412.95 628.08 413.95 628.09 414.95 628.1 415.95 628.11 416.95 628.12 417.95 628.13 418.95 628.13 419.95 628.14 420.95 628.15 421.95 628.16 422.95 628.17 423.95 628.18 424.95 628.19 425.95 628.2 426.95 628.21 427.95 628.21 428.95 628.22 429.95 628.23 430.95 628.24 431.95 628.25 432.95 628.26 433.95 628.27 434.95 628.28 435.95 628.29 436.95 628.29 437.95 628.3 438.95 628.31 439.95 628.32 440.95 628.33 441.95 628.34 442.95 628.35 443.95 628.36 444.95 628.36 445.95 628.37 446.95 628.38 447.95 628.39 448.95 628.4 449.95 628.41 450.95 628.42 451.95 628.43 452.95 628.43 453.95 628.44 454.95 628.45 455.95 628.46 456.95 628.47 457.95 628.48 458.95 628.49 459.95 628.49 460.95 628.5 461.95 628.51 462.95 628.52 463.95 628.53 464.95 628.54 465.95 628.54 466.95 628.55 467.95 628.56 468.95 628.57 469.95 628.58 470.95 628.59 471.95 628.59 472.95 628.6 473.95 628.61 474.95 628.62 475.95 628.63 476.95 628.63 477.95 628.64 478.95 628.65 479.95 628.66 480.95 628.67 481.95 628.67 482.95 628.68 483.95 628.69 484.95 628.7 485.95 628.71 486.95 628.71 487.95 628.72 488.95 628.73 489.95 628.74 490.95 628.75 491.95 628.75 492.95 628.76 493.95 628.77 494.95 628.78 495.95 628.78 496.95 628.79 497.95 628.8 498.95 628.81 499.95 628.81 500.95 628.82 501.95 628.83 502.95 628.84 503.95 628.84 504.95 628.85 505.95 628.86 506.95 628.86 507.95 628.87 508.95 628.88 509.95 628.89 510.95 628.89 511.95 628.9 512.95 628.91 513.95 628.91 514.95 628.92 515.95 628.93 516.95 628.93 517.95 628.94 518.95 628.95 519.95 628.95 520.95 628.96 521.95 628.97 522.95 628.97 523.95 628.98 524.95 628.99 525.95 628.99 526.95 629 527.95 629.01 528.95 629.01 529.95 629.02 530.95 629.03 531.95 629.03 532.95 629.04 533.95 629.04 534.95 629.05 535.95 629.06 536.95 629.06 537.95 629.07 538.95 629.07 539.95 629.08 540.95 629.08 541.95 629.09 542.95 629.1 543.95 629.1 544.95 629.11 545.95 629.11 546.95 629.12 547.95 629.12 548.95 629.13 549.95 629.13 550.95 629.14 551.95 629.14 552.95 629.15 553.95 629.15 554.95 629.16 555.95 629.16 556.95 629.17 557.95 629.17 558.95 629.18 559.95 629.18 560.95 629.19 561.95 629.19 562.95 629.2 563.95 629.2 564.95 629.21 565.95 629.21 566.95 629.22 567.95 629.22 568.95 629.22 569.95 629.23 570.95 629.23 571.95 629.24 572.95 629.24 573.95 629.24 574.95 629.25 575.95 629.25 576.95 629.26 577.95 629.26 578.95 629.26 579.95 629.27 580.95 629.27 581.95 629.27 582.95 629.28 583.95 629.28 584.95 629.28 585.95 629.29 586.95 629.29 587.95 629.29 588.95 629.3 589.95 629.3 590.95 629.3 591.95 629.3 592.95 629.31 593.95 629.31 594.95 629.31 595.95 629.32 596.95 629.32 597.95 629.32 598.95 629.32 599.95 629.32 600.95 629.33 601.95 629.33 602.95 629.33 603.95 629.33 604.95 629.33 605.95 629.34 606.95 629.34 607.95 629.34 608.95 629.34 609.95 629.34 610.95 629.34 611.95 629.35 612.95 629.35 613.95 629.35 614.95 629.35 615.95 629.35 616.95 629.35 617.95 629.35 618.95 629.35 619.95 629.35 620.95 629.35 621.95 629.36 622.95 629.36 623.95 629.36 624.95 629.36 625.95 629.36 626.95 629.36 627.95 629.36 628.95 629.36 629.95 629.36 630.95 629.36 631.95 629.36 632.95 629.36 633.95 629.36 634.95 629.36 635.95 629.35 636.95 629.35 637.95 629.35 638.95 629.35 639.95 629.35 640.95 629.35 641.95 629.35 642.95 629.35 643.95 629.35 644.95 629.35 645.95 629.34 646.95 629.34 647.95 629.34 648.95 629.34 649.95 629.34 650.95 629.34 651.95 629.33 652.95 629.33 653.95 629.33 654.95 629.33 655.95 629.33 656.95 629.32 657.95 629.32 658.95 629.32 659.95 629.32 660.95 629.31 661.95 629.31 662.95 629.31 663.95 629.3 664.95 629.3 665.95 629.3 666.95 629.29 667.95 629.29 668.95 629.29 669.95 629.28 670.95 629.28 671.95 629.28 672.95 629.27 673.95 629.27 674.95 629.26 675.95 629.26 676.95 629.26" stroke="#0000ff" stroke-dasharray="10.7 2.47 2.0 2.47"/>
<path d="M53.95 630.4 55.6 630.4 57.26 630.4 58.91 630.4 60.56 630.4 62.22 630.4 63.87 630.4 65.52 630.4 67.18 630.4 68.83 630.4 70.48 630.4 72.14 630.4 73.79 630.4 75.44 630.4 77.1 630.4 78.75 630.4 80.4 630.4 82.06 630.4 83.71 630.4 85.36 630.4 87.02 630.4 88.67 630.4 90.32 630.4 91.98 630.4 93.63 630.4 95.28 630.4 96.94 630.4 98.59 630.4 100.24 630.4 101.9 630.4 103.55 630.4 105.2 630.4 106.86 630.4 108.51 630.37 110.16 630.28 111.82 630.15 113.47 629.99 115.12 629.83 116.78 629.66 118.43 629.49 120.08 629.29 121.74 629.07 123.39 628.84 125.04 628.58 126.7 628.3 128.35 627.99 130 627.66 131.66 627.3 133.31 626.89 134.96 626.4 136.62 625.83 138.27 625.19 139.92 624.47 141.58 623.7 143.23 622.86 144.88 621.97 146.54 621.02 148.19 620.02 149.84 618.94 151.5 617.7 153.15 616.3 154.8 614.78 156.46 613.12 158.11 611.35 159.76 609.48 161.42 607.51 163.07 605.47 164.72 603.35 181.5 565.49 198.03 528.75 214.57 524.15 231.1 538.47 247.63 551.1 264.17 563.03 280.7 571.8 297.23 578.82 313.77 582.71 330.3 587.28 346.83 591.31 363.37 594.96 379.9 598.29 396.43 601.56 412.97 604.15 429.5 606.54 446.03 608.89 479.1 612.93 512.17 616.01 594.83 621.28 677.5 624.33" stroke="#ff8000" stroke-dasharray="10.7 2.47 2.0 2.47"/>
<path d="M53.95 630.4 57.5 630.4 65.77 630.39 74.03 630.39 82.3 630.38 90.57 630.38 98.83 630.37 107.1 630.37 115.37 630.36 123.63 630.36 131.9 630.35 140.17 630.35 148.43 630.34 156.7 630.34 164.97 630.33 173.23 630.33 181.5 630.32 189.77 630.31 198.03 630.31 206.3 630.3 214.57 630.3 222.83 630.29 231.1 630.29 239.37 630.28 247.63 630.28 255.9 630.27 264.17 630.27 272.43 630.26 280.7 630.26 288.97 630.25 297.23 630.25 305.5 630.24 313.77 630.24 322.03 630.23 330.3 630.22 346.83 623.94 379.9 590.96 412.97 549.8 446.03 519.59 479.1 508.96 512.17 515.38 594.83 557.66 677.5 575.1" stroke="#ff0000" stroke-dasharray="10.7 2.47 2.0 2.47"/>
</g>
<path d="M57.5 630.4v2.3M98.83 630.4v4M140.17 630.4v2.3M181.5 630.4v4M222.83 630.4v2.3M264.17 630.4v4M305.5 630.4v2.3M346.83 630.4v4M388.17 630.4v2.3M429.5 630.4v4M470.83 630.4v2.3M512.17 630.4v4M553.5 630.4v2.3M594.83 630.4v4M636.17 630.4v2.3M677.5 630.4v4M57.5 630.4h-4M57.5 612.86h-2.3M57.5 595.31h-4M57.5 577.77h-2.3M57.5 560.22h-4M57.5 542.68h-2.3M57.5 525.13h-4M57.5 507.59h-2.3M57.5 490.04h-4M57.5 472.5h-2.3" stroke="#1e1e1e" stroke-width="1" fill="none"/>
<rect x="57.5" y="472.5" width="620.0" height="157.9" fill="none" stroke="#1e1e1e" stroke-width="1.1"/>
<g font-family='"Liberation Serif", serif' font-size="16.9" fill="#111" lengthAdjust="spacingAndGlyphs">
<text x="98.83" y="654.5" text-anchor="middle" textLength="7.75" lengthAdjust="spacingAndGlyphs">5</text>
<text x="181.5" y="654.5" text-anchor="middle" textLength="15.5" lengthAdjust="spacingAndGlyphs">10</text>
<text x="264.17" y="654.5" text-anchor="middle" textLength="15.5" lengthAdjust="spacingAndGlyphs">15</text>
<text x="346.83" y="654.5" text-anchor="middle" textLength="15.5" lengthAdjust="spacingAndGlyphs">20</text>
<text x="429.5" y="654.5" text-anchor="middle" textLength="15.5" lengthAdjust="spacingAndGlyphs">25</text>
<text x="512.17" y="654.5" text-anchor="middle" textLength="15.5" lengthAdjust="spacingAndGlyphs">30</text>
<text x="594.83" y="654.5" text-anchor="middle" textLength="15.5" lengthAdjust="spacingAndGlyphs">35</text>
<text x="677.5" y="654.5" text-anchor="middle" textLength="15.5" lengthAdjust="spacingAndGlyphs">40</text>
<text x="45.3" y="636.1" text-anchor="end" textLength="7.75" lengthAdjust="spacingAndGlyphs">0</text>
<text x="45.3" y="601.01" text-anchor="end" textLength="23.25" lengthAdjust="spacingAndGlyphs">100</text>
<text x="45.3" y="565.92" text-anchor="end" textLength="23.25" lengthAdjust="spacingAndGlyphs">200</text>
<text x="45.3" y="530.83" text-anchor="end" textLength="23.25" lengthAdjust="spacingAndGlyphs">300</text>
<text x="45.3" y="495.74" text-anchor="end" textLength="23.25" lengthAdjust="spacingAndGlyphs">400</text>
</g>
<text x="333.4" y="674.4" font-family='"Liberation Serif", serif' font-style="italic" font-size="18" fill="#111" textLength="13" lengthAdjust="spacingAndGlyphs">E</text>
<text x="353.4" y="674.4" font-family='"Liberation Serif", serif' font-size="18" fill="#111" textLength="47.8" lengthAdjust="spacingAndGlyphs">(MeV)</text>
<g transform="translate(13.9,551.45) rotate(-90)" font-family='"Liberation Serif", serif' font-size="18" fill="#111">
<text x="-26.1" y="0" font-style="italic" textLength="9" lengthAdjust="spacingAndGlyphs">σ</text>
<text x="-8.4" y="0" textLength="33.7" lengthAdjust="spacingAndGlyphs">(mb)</text>
</g>
<text x="72.85" y="462.0" font-family='"Liberation Serif", serif' font-weight="bold" font-size="21" fill="#000">(c)</text>
<rect x="64.9" y="479.7" width="77.1" height="83.7" rx="2.6" fill="#fff" stroke="#8a8a8a" stroke-width="1.3"/>
<path d="M70.2 492.1H90.2" stroke="#800080" stroke-width="1.95" stroke-dasharray="10.7 2.47 2.0 2.47"/>
<text x="94.7" y="490.4" font-family='"Liberation Serif", serif' font-size="10.8" fill="#111" textLength="15.0" lengthAdjust="spacingAndGlyphs">177</text>
<text x="111.2" y="495.6" font-family='"Liberation Serif", serif' font-size="15.6" fill="#111" textLength="18.6" lengthAdjust="spacingAndGlyphs">Yb</text>
<path d="M70.2 512.2H90.2" stroke="#0000ff" stroke-width="1.95" stroke-dasharray="10.7 2.47 2.0 2.47"/>
<text x="94.7" y="510.5" font-family='"Liberation Serif", serif' font-size="10.8" fill="#111" textLength="21.3" lengthAdjust="spacingAndGlyphs">177g</text>
<text x="116.9" y="515.7" font-family='"Liberation Serif", serif' font-size="15.6" fill="#111" textLength="16.6" lengthAdjust="spacingAndGlyphs">Lu</text>
<path d="M70.2 532.3H90.2" stroke="#ff8000" stroke-width="1.95" stroke-dasharray="10.7 2.47 2.0 2.47"/>
<text x="94.7" y="530.6" font-family='"Liberation Serif", serif' font-size="10.8" fill="#111" textLength="24.2" lengthAdjust="spacingAndGlyphs">176m</text>
<text x="119.9" y="535.8" font-family='"Liberation Serif", serif' font-size="15.6" fill="#111" textLength="16.6" lengthAdjust="spacingAndGlyphs">Lu</text>
<path d="M70.2 552.4H90.2" stroke="#ff0000" stroke-width="1.95" stroke-dasharray="10.7 2.47 2.0 2.47"/>
<text x="94.7" y="550.7" font-family='"Liberation Serif", serif' font-size="10.8" fill="#111" textLength="24.2" lengthAdjust="spacingAndGlyphs">174m</text>
<text x="119.9" y="555.9" font-family='"Liberation Serif", serif' font-size="15.6" fill="#111" textLength="16.6" lengthAdjust="spacingAndGlyphs">Lu</text>
<rect x="557.5" y="481.6" width="102.9" height="23.1" fill="#fff" stroke="#838383" stroke-width="1.3"/>
<text x="562.3" y="497.1" font-family='"Liberation Serif", serif' font-size="15.6" fill="#111" textLength="88.3" lengthAdjust="spacingAndGlyphs">TENDL-2023</text>
<text x="651.5" y="493.9" font-family='"Liberation Serif", serif' font-size="12" fill="#111">†</text>
<clipPath id="clip3"><rect x="57.5" y="697.0" width="620.0" height="157.39999999999998"/></clipPath>
<path d="M98.83 697V854.4M181.5 697V854.4M264.17 697V854.4M346.83 697V854.4M429.5 697V854.4M512.17 697V854.4M594.83 697V854.4M677.5 697V854.4M57.5 854.4H677.5M57.5 809.43H677.5M57.5 764.46H677.5M57.5 719.49H677.5" stroke="#e2e2e2" stroke-width="0.9" fill="none"/>
<g clip-path="url(#clip3)" fill="none" stroke-width="1.95" stroke-linejoin="round">
<path d="M53.95 854.35 54.95 854.34 55.95 854.34 56.95 854.34 57.95 854.34 58.95 854.35 59.95 854.35 60.95 854.36 61.95 854.37 62.95 854.39 63.95 854.4 64.95 854.4 65.95 854.4 66.95 854.4 67.95 854.4 68.95 854.4 69.95 854.4 70.95 854.4 71.95 854.4 72.95 854.4 73.95 854.4 74.95 854.4 75.95 854.4 76.95 854.4 77.95 854.4 78.95 854.4 79.95 854.4 80.95 854.4 81.95 854.4 82.95 854.4 83.95 854.4 84.95 854.4 85.95 854.4 86.95 854.4 87.95 854.4 88.95 854.4 89.95 854.4 90.95 854.4 91.95 854.4 92.95 854.36 93.95 854.31 94.95 854.25 95.95 854.19 96.95 854.12 97.95 854.05 98.95 853.97 99.95 853.88 100.95 853.79 101.95 853.69 102.95 853.58 103.95 853.46 104.95 853.34 105.95 853.21 106.95 853.07 107.95 852.92 108.95 852.77 109.95 852.6 110.95 852.43 111.95 852.24 112.95 852.05 113.95 851.85 114.95 851.64 115.95 851.42 116.95 851.18 117.95 850.94 118.95 850.69 119.95 850.42 120.95 850.14 121.95 849.86 122.95 849.56 123.95 849.25 124.95 848.92 125.95 848.59 126.95 848.24 127.95 847.88 128.95 847.51 129.95 847.12 130.95 846.72 131.95 846.31 132.95 845.88 133.95 845.44 134.95 844.98 135.95 844.51 136.95 844.02 137.95 843.52 138.95 843.01 139.95 842.48 140.95 841.93 141.95 841.37 142.95 840.79 143.95 840.2 144.95 839.59 145.95 838.96 146.95 838.32 147.95 837.65 148.95 836.98 149.95 836.28 150.95 835.57 151.95 834.83 152.95 834.08 153.95 833.31 154.95 832.53 155.95 831.72 156.95 830.9 157.95 830.05 158.95 829.19 159.95 828.3 160.95 827.4 161.95 826.47 162.95 825.53 163.95 824.57 164.95 823.58 165.95 822.57 166.95 821.54 167.95 820.47 168.95 819.37 169.95 818.23 170.95 817.05 171.95 815.81 172.95 814.52 173.95 813.17 174.95 811.77 175.95 810.32 176.95 808.85 177.95 807.36 178.95 805.86 179.95 804.36 180.95 802.89 181.95 801.44 182.95 800.02 183.95 798.64 184.95 797.28 185.95 795.95 186.95 794.64 187.95 793.34 188.95 792.07 189.95 790.8 190.95 789.54 191.95 788.29 192.95 787.06 193.95 785.83 194.95 784.62 195.95 783.42 196.95 782.23 197.95 781.06 198.95 779.9 199.95 778.76 200.95 777.63 201.95 776.52 202.95 775.43 203.95 774.36 204.95 773.3 205.95 772.27 206.95 771.25 207.95 770.26 208.95 769.28 209.95 768.33 210.95 767.39 211.95 766.48 212.95 765.58 213.95 764.7 214.95 763.84 215.95 763 216.95 762.18 217.95 761.37 218.95 760.59 219.95 759.82 220.95 759.06 221.95 758.32 222.95 757.6 223.95 756.9 224.95 756.21 225.95 755.54 226.95 754.88 227.95 754.24 228.95 753.61 229.95 753 230.95 752.4 231.95 751.81 232.95 751.24 233.95 750.68 234.95 750.14 235.95 749.61 236.95 749.09 237.95 748.58 238.95 748.09 239.95 747.61 240.95 747.14 241.95 746.68 242.95 746.23 243.95 745.8 244.95 745.37 245.95 744.95 246.95 744.55 247.95 744.15 248.95 743.77 249.95 743.39 250.95 743.02 251.95 742.67 252.95 742.32 253.95 741.98 254.95 741.65 255.95 741.33 256.95 741.02 257.95 740.71 258.95 740.42 259.95 740.13 260.95 739.86 261.95 739.59 262.95 739.33 263.95 739.07 264.95 738.83 265.95 738.59 266.95 738.36 267.95 738.14 268.95 737.93 269.95 737.73 270.95 737.53 271.95 737.34 272.95 737.16 273.95 736.98 274.95 736.82 275.95 736.66 276.95 736.5 277.95 736.36 278.95 736.22 279.95 736.09 280.95 735.96 281.95 735.84 282.95 735.73 283.95 735.62 284.95 735.52 285.95 735.43 286.95 735.34 287.95 735.26 288.95 735.18 289.95 735.12 290.95 735.05 291.95 734.99 292.95 734.94 293.95 734.89 294.95 734.85 295.95 734.82 296.95 734.79 297.95 734.76 298.95 734.74 299.95 734.72 300.95 734.71 301.95 734.71 302.95 734.71 303.95 734.71 304.95 734.72 305.95 734.73 306.95 734.75 307.95 734.77 308.95 734.79 309.95 734.82 310.95 734.86 311.95 734.89 312.95 734.93 313.95 734.98 314.95 735.03 315.95 735.08 316.95 735.13 317.95 735.19 318.95 735.25 319.95 735.32 320.95 735.38 321.95 735.46 322.95 735.53 323.95 735.61 324.95 735.68 325.95 735.77 326.95 735.85 327.95 735.94 328.95 736.03 329.95 736.12 330.95 736.21 331.95 736.31 332.95 736.4 333.95 736.5 334.95 736.6 335.95 736.71 336.95 736.81 337.95 736.92 338.95 737.03 339.95 737.14 340.95 737.25 341.95 737.37 342.95 737.49 343.95 737.6 344.95 737.72 345.95 737.85 346.95 737.97 347.95 738.1 348.95 738.22 349.95 738.35 350.95 738.48 351.95 738.61 352.95 738.75 353.95 738.88 354.95 739.02 355.95 739.16 356.95 739.3 357.95 739.44 358.95 739.58 359.95 739.73 360.95 739.87 361.95 740.02 362.95 740.17 363.95 740.32 364.95 740.47 365.95 740.62 366.95 740.77 367.95 740.93 368.95 741.08 369.95 741.24 370.95 741.4 371.95 741.56 372.95 741.72 373.95 741.88 374.95 742.04 375.95 742.2 376.95 742.37 377.95 742.53 378.95 742.7 379.95 742.87 380.95 743.04 381.95 743.21 382.95 743.38 383.95 743.55 384.95 743.72 385.95 743.89 386.95 744.06 387.95 744.24 388.95 744.41 389.95 744.59 390.95 744.76 391.95 744.94 392.95 745.12 393.95 745.29 394.95 745.47 395.95 745.65 396.95 745.83 397.95 746.01 398.95 746.19 399.95 746.37 400.95 746.55 401.95 746.73 402.95 746.92 403.95 747.1 404.95 747.28 405.95 747.46 406.95 747.65 407.95 747.83 408.95 748.01 409.95 748.2 410.95 748.38 411.95 748.57 412.95 748.75 413.95 748.93 414.95 749.12 415.95 749.3 416.95 749.49 417.95 749.67 418.95 749.86 419.95 750.04 420.95 750.23 421.95 750.41 422.95 750.6 423.95 750.78 424.95 750.97 425.95 751.15 426.95 751.34 427.95 751.52 428.95 751.71 429.95 751.9 430.95 752.08 431.95 752.27 432.95 752.45 433.95 752.64 434.95 752.82 435.95 753.01 436.95 753.2 437.95 753.38 438.95 753.57 439.95 753.75 440.95 753.94 441.95 754.13 442.95 754.31 443.95 754.5 444.95 754.68 445.95 754.87 446.95 755.06 447.95 755.24 448.95 755.43 449.95 755.61 450.95 755.8 451.95 755.99 452.95 756.17 453.95 756.36 454.95 756.54 455.95 756.73 456.95 756.92 457.95 757.1 458.95 757.29 459.95 757.47 460.95 757.66 461.95 757.85 462.95 758.03 463.95 758.22 464.95 758.4 465.95 758.59 466.95 758.77 467.95 758.96 468.95 759.14 469.95 759.33 470.95 759.51 471.95 759.7 472.95 759.88 473.95 760.07 474.95 760.25 475.95 760.44 476.95 760.62 477.95 760.81 478.95 760.99 479.95 761.18 480.95 761.36 481.95 761.55 482.95 761.73 483.95 761.91 484.95 762.1 485.95 762.28 486.95 762.46 487.95 762.65 488.95 762.83 489.95 763.01 490.95 763.2 491.95 763.38 492.95 763.56 493.95 763.75 494.95 763.93 495.95 764.11 496.95 764.29 497.95 764.48 498.95 764.66 499.95 764.84 500.95 765.02 501.95 765.2 502.95 765.38 503.95 765.56 504.95 765.75 505.95 765.93 506.95 766.11 507.95 766.29 508.95 766.47 509.95 766.65 510.95 766.83 511.95 767.01 512.95 767.19 513.95 767.36 514.95 767.54 515.95 767.72 516.95 767.9 517.95 768.08 518.95 768.26 519.95 768.44 520.95 768.61 521.95 768.79 522.95 768.97 523.95 769.14 524.95 769.32 525.95 769.5 526.95 769.67 527.95 769.85 528.95 770.03 529.95 770.2 530.95 770.38 531.95 770.55 532.95 770.73 533.95 770.9 534.95 771.07 535.95 771.25 536.95 771.42 537.95 771.59 538.95 771.77 539.95 771.94 540.95 772.11 541.95 772.29 542.95 772.46 543.95 772.63 544.95 772.8 545.95 772.97 546.95 773.14 547.95 773.31 548.95 773.48 549.95 773.65 550.95 773.82 551.95 773.99 552.95 774.16 553.95 774.33 554.95 774.5 555.95 774.66 556.95 774.83 557.95 775 558.95 775.16 559.95 775.33 560.95 775.5 561.95 775.66 562.95 775.83 563.95 775.99 564.95 776.16 565.95 776.32 566.95 776.49 567.95 776.65 568.95 776.81 569.95 776.98 570.95 777.14 571.95 777.3 572.95 777.46 573.95 777.62 574.95 777.78 575.95 777.94 576.95 778.1 577.95 778.26 578.95 778.42 579.95 778.58 580.95 778.74 581.95 778.9 582.95 779.06 583.95 779.21 584.95 779.37 585.95 779.53 586.95 779.68 587.95 779.84 588.95 779.99 589.95 780.15 590.95 780.3 591.95 780.45 592.95 780.61 593.95 780.76 594.95 780.91 595.95 781.07 596.95 781.22 597.95 781.37 598.95 781.52 599.95 781.67 600.95 781.82 601.95 781.97 602.95 782.12 603.95 782.26 604.95 782.41 605.95 782.56 606.95 782.7 607.95 782.85 608.95 783 609.95 783.14 610.95 783.29 611.95 783.43 612.95 783.57 613.95 783.72 614.95 783.86 615.95 784 616.95 784.14 617.95 784.28 618.95 784.43 619.95 784.57 620.95 784.7 621.95 784.84 622.95 784.98 623.95 785.12 624.95 785.26 625.95 785.39 626.95 785.53 627.95 785.67 628.95 785.8 629.95 785.94 630.95 786.07 631.95 786.2 632.95 786.34 633.95 786.47 634.95 786.6 635.95 786.73 636.95 786.86 637.95 786.99 638.95 787.12 639.95 787.25 640.95 787.38 641.95 787.5 642.95 787.63 643.95 787.76 644.95 787.88 645.95 788.01 646.95 788.13 647.95 788.26 648.95 788.38 649.95 788.5 650.95 788.62 651.95 788.75 652.95 788.87 653.95 788.99 654.95 789.11 655.95 789.23 656.95 789.34 657.95 789.46 658.95 789.58 659.95 789.69 660.95 789.81 661.95 789.92 662.95 790.04 663.95 790.15 664.95 790.27 665.95 790.38 666.95 790.49 667.95 790.6 668.95 790.71 669.95 790.82 670.95 790.93 671.95 791.04 672.95 791.14 673.95 791.25 674.95 791.36 675.95 791.46 676.95 791.57" stroke="#800080" stroke-dasharray="10.7 2.47 2.0 2.47" stroke-dashoffset="-2.6"/>
<path d="M53.95 854.22 54.95 854.25 55.95 854.27 56.95 854.3 57.95 854.32 58.95 854.34 59.95 854.36 60.95 854.38 61.95 854.4 62.95 854.4 63.95 854.4 64.95 854.4 65.95 854.4 66.95 854.4 67.95 854.4 68.95 854.4 69.95 854.4 70.95 854.4 71.95 854.4 72.95 854.4 73.95 854.4 74.95 854.4 75.95 854.4 76.95 854.4 77.95 854.4 78.95 854.4 79.95 854.4 80.95 854.4 81.95 854.4 82.95 854.4 83.95 854.4 84.95 854.4 85.95 854.4 86.95 854.4 87.95 854.4 88.95 854.4 89.95 854.4 90.95 854.4 91.95 854.4 92.95 854.4 93.95 854.4 94.95 854.4 95.95 854.4 96.95 854.4 97.95 854.4 98.95 854.4 99.95 854.4 100.95 854.4 101.95 854.4 102.95 854.4 103.95 854.4 104.95 854.4 105.95 854.4 106.95 854.4 107.95 854.4 108.95 854.4 109.95 854.4 110.95 854.4 111.95 854.4 112.95 854.38 113.95 854.37 114.95 854.35 115.95 854.33 116.95 854.31 117.95 854.29 118.95 854.27 119.95 854.25 120.95 854.23 121.95 854.21 122.95 854.19 123.95 854.17 124.95 854.15 125.95 854.13 126.95 854.1 127.95 854.08 128.95 854.05 129.95 854.03 130.95 854.01 131.95 853.98 132.95 853.95 133.95 853.93 134.95 853.9 135.95 853.87 136.95 853.85 137.95 853.82 138.95 853.79 139.95 853.76 140.95 853.73 141.95 853.7 142.95 853.68 143.95 853.65 144.95 853.62 145.95 853.58 146.95 853.55 147.95 853.52 148.95 853.49 149.95 853.46 150.95 853.43 151.95 853.39 152.95 853.36 153.95 853.33 154.95 853.3 155.95 853.26 156.95 853.23 157.95 853.19 158.95 853.16 159.95 853.13 160.95 853.09 161.95 853.06 162.95 853.02 163.95 852.99 164.95 852.95 165.95 852.91 166.95 852.88 167.95 852.84 168.95 852.8 169.95 852.77 170.95 852.73 171.95 852.69 172.95 852.66 173.95 852.62 174.95 852.58 175.95 852.54 176.95 852.51 177.95 852.47 178.95 852.43 179.95 852.39 180.95 852.35 181.95 852.31 182.95 852.28 183.95 852.24 184.95 852.2 185.95 852.16 186.95 852.12 187.95 852.08 188.95 852.04 189.95 852 190.95 851.96 191.95 851.92 192.95 851.89 193.95 851.85 194.95 851.81 195.95 851.77 196.95 851.73 197.95 851.69 198.95 851.65 199.95 851.61 200.95 851.57 201.95 851.53 202.95 851.49 203.95 851.45 204.95 851.41 205.95 851.37 206.95 851.33 207.95 851.29 208.95 851.25 209.95 851.21 210.95 851.17 211.95 851.13 212.95 851.1 213.95 851.06 214.95 851.02 215.95 850.98 216.95 850.94 217.95 850.9 218.95 850.86 219.95 850.82 220.95 850.78 221.95 850.75 222.95 850.71 223.95 850.67 224.95 850.63 225.95 850.59 226.95 850.56 227.95 850.52 228.95 850.48 229.95 850.44 230.95 850.4 231.95 850.37 232.95 850.33 233.95 850.29 234.95 850.26 235.95 850.22 236.95 850.18 237.95 850.15 238.95 850.11 239.95 850.07 240.95 850.04 241.95 850 242.95 849.97 243.95 849.93 244.95 849.89 245.95 849.86 246.95 849.82 247.95 849.79 248.95 849.75 249.95 849.72 250.95 849.68 251.95 849.65 252.95 849.62 253.95 849.58 254.95 849.55 255.95 849.52 256.95 849.48 257.95 849.45 258.95 849.42 259.95 849.38 260.95 849.35 261.95 849.32 262.95 849.29 263.95 849.25 264.95 849.22 265.95 849.19 266.95 849.16 267.95 849.13 268.95 849.1 269.95 849.07 270.95 849.04 271.95 849.01 272.95 848.98 273.95 848.95 274.95 848.92 275.95 848.89 276.95 848.86 277.95 848.83 278.95 848.8 279.95 848.77 280.95 848.74 281.95 848.72 282.95 848.69 283.95 848.66 284.95 848.63 285.95 848.61 286.95 848.58 287.95 848.55 288.95 848.53 289.95 848.5 290.95 848.48 291.95 848.45 292.95 848.43 293.95 848.4 294.95 848.38 295.95 848.35 296.95 848.33 297.95 848.31 298.95 848.28 299.95 848.26 300.95 848.24 301.95 848.22 302.95 848.2 303.95 848.17 304.95 848.15 305.95 848.13 306.95 848.11 307.95 848.09 308.95 848.07 309.95 848.05 310.95 848.03 311.95 848.01 312.95 847.99 313.95 847.98 314.95 847.96 315.95 847.94 316.95 847.92 317.95 847.9 318.95 847.89 319.95 847.87 320.95 847.85 321.95 847.84 322.95 847.82 323.95 847.81 324.95 847.79 325.95 847.78 326.95 847.76 327.95 847.75 328.95 847.73 329.95 847.72 330.95 847.71 331.95 847.69 332.95 847.68 333.95 847.67 334.95 847.66 335.95 847.64 336.95 847.63 337.95 847.62 338.95 847.61 339.95 847.6 340.95 847.59 341.95 847.58 342.95 847.57 343.95 847.56 344.95 847.55 345.95 847.54 346.95 847.53 347.95 847.52 348.95 847.51 349.95 847.5 350.95 847.49 351.95 847.49 352.95 847.48 353.95 847.47 354.95 847.46 355.95 847.46 356.95 847.45 357.95 847.44 358.95 847.44 359.95 847.43 360.95 847.43 361.95 847.42 362.95 847.42 363.95 847.41 364.95 847.41 365.95 847.4 366.95 847.4 367.95 847.39 368.95 847.39 369.95 847.38 370.95 847.38 371.95 847.38 372.95 847.37 373.95 847.37 374.95 847.37 375.95 847.37 376.95 847.36 377.95 847.36 378.95 847.36 379.95 847.36 380.95 847.36 381.95 847.36 382.95 847.36 383.95 847.35 384.95 847.35 385.95 847.35 386.95 847.35 387.95 847.35 388.95 847.35 389.95 847.35 390.95 847.35 391.95 847.35 392.95 847.36 393.95 847.36 394.95 847.36 395.95 847.36 396.95 847.36 397.95 847.36 398.95 847.36 399.95 847.37 400.95 847.37 401.95 847.37 402.95 847.37 403.95 847.38 404.95 847.38 405.95 847.38 406.95 847.39 407.95 847.39 408.95 847.39 409.95 847.4 410.95 847.4 411.95 847.41 412.95 847.41 413.95 847.41 414.95 847.42 415.95 847.42 416.95 847.43 417.95 847.43 418.95 847.44 419.95 847.44 420.95 847.45 421.95 847.45 422.95 847.46 423.95 847.47 424.95 847.47 425.95 847.48 426.95 847.48 427.95 847.49 428.95 847.5 429.95 847.5 430.95 847.51 431.95 847.52 432.95 847.52 433.95 847.53 434.95 847.54 435.95 847.55 436.95 847.55 437.95 847.56 438.95 847.57 439.95 847.58 440.95 847.58 441.95 847.59 442.95 847.6 443.95 847.61 444.95 847.62 445.95 847.63 446.95 847.63 447.95 847.64 448.95 847.65 449.95 847.66 450.95 847.67 451.95 847.68 452.95 847.69 453.95 847.7 454.95 847.71 455.95 847.72 456.95 847.72 457.95 847.73 458.95 847.74 459.95 847.75 460.95 847.76 461.95 847.77 462.95 847.78 463.95 847.79 464.95 847.8 465.95 847.81 466.95 847.82 467.95 847.83 468.95 847.84 469.95 847.85 470.95 847.86 471.95 847.88 472.95 847.89 473.95 847.9 474.95 847.91 475.95 847.92 476.95 847.93 477.95 847.94 478.95 847.95 479.95 847.96 480.95 847.97 481.95 847.98 482.95 847.99 483.95 848.01 484.95 848.02 485.95 848.03 486.95 848.04 487.95 848.05 488.95 848.06 489.95 848.07 490.95 848.09 491.95 848.1 492.95 848.11 493.95 848.12 494.95 848.13 495.95 848.14 496.95 848.15 497.95 848.17 498.95 848.18 499.95 848.19 500.95 848.2 501.95 848.21 502.95 848.22 503.95 848.24 504.95 848.25 505.95 848.26 506.95 848.27 507.95 848.28 508.95 848.29 509.95 848.31 510.95 848.32 511.95 848.33 512.95 848.34 513.95 848.35 514.95 848.36 515.95 848.38 516.95 848.39 517.95 848.4 518.95 848.41 519.95 848.42 520.95 848.43 521.95 848.45 522.95 848.46 523.95 848.47 524.95 848.48 525.95 848.49 526.95 848.5 527.95 848.52 528.95 848.53 529.95 848.54 530.95 848.55 531.95 848.56 532.95 848.57 533.95 848.58 534.95 848.59 535.95 848.61 536.95 848.62 537.95 848.63 538.95 848.64 539.95 848.65 540.95 848.66 541.95 848.67 542.95 848.68 543.95 848.69 544.95 848.71 545.95 848.72 546.95 848.73 547.95 848.74 548.95 848.75 549.95 848.76 550.95 848.77 551.95 848.78 552.95 848.79 553.95 848.8 554.95 848.81 555.95 848.82 556.95 848.83 557.95 848.84 558.95 848.85 559.95 848.86 560.95 848.87 561.95 848.88 562.95 848.89 563.95 848.9 564.95 848.91 565.95 848.92 566.95 848.93 567.95 848.94 568.95 848.95 569.95 848.95 570.95 848.96 571.95 848.97 572.95 848.98 573.95 848.99 574.95 849 575.95 849.01 576.95 849.01 577.95 849.02 578.95 849.03 579.95 849.04 580.95 849.05 581.95 849.06 582.95 849.06 583.95 849.07 584.95 849.08 585.95 849.09 586.95 849.09 587.95 849.1 588.95 849.11 589.95 849.11 590.95 849.12 591.95 849.13 592.95 849.13 593.95 849.14 594.95 849.15 595.95 849.15 596.95 849.16 597.95 849.16 598.95 849.17 599.95 849.18 600.95 849.18 601.95 849.19 602.95 849.19 603.95 849.2 604.95 849.2 605.95 849.21 606.95 849.21 607.95 849.21 608.95 849.22 609.95 849.22 610.95 849.23 611.95 849.23 612.95 849.23 613.95 849.24 614.95 849.24 615.95 849.24 616.95 849.25 617.95 849.25 618.95 849.25 619.95 849.26 620.95 849.26 621.95 849.26 622.95 849.26 623.95 849.26 624.95 849.27 625.95 849.27 626.95 849.27 627.95 849.27 628.95 849.27 629.95 849.27 630.95 849.27 631.95 849.27 632.95 849.27 633.95 849.27 634.95 849.27 635.95 849.27 636.95 849.27 637.95 849.27 638.95 849.27 639.95 849.27 640.95 849.27 641.95 849.27 642.95 849.26 643.95 849.26 644.95 849.26 645.95 849.26 646.95 849.25 647.95 849.25 648.95 849.25 649.95 849.25 650.95 849.24 651.95 849.24 652.95 849.23 653.95 849.23 654.95 849.23 655.95 849.22 656.95 849.22 657.95 849.21 658.95 849.21 659.95 849.2 660.95 849.2 661.95 849.19 662.95 849.18 663.95 849.18 664.95 849.17 665.95 849.16 666.95 849.16 667.95 849.15 668.95 849.14 669.95 849.13 670.95 849.12 671.95 849.12 672.95 849.11 673.95 849.1 674.95 849.09 675.95 849.08 676.95 849.07" stroke="#0000ff" stroke-dasharray="10.7 2.47 2.0 2.47"/>
<path d="M53.95 854.4 54.95 854.4 55.95 854.4 56.95 854.4 57.95 854.4 58.95 854.37 59.95 854.33 60.95 854.3 61.95 854.27 62.95 854.24 63.95 854.22 64.95 854.2 65.95 854.18 66.95 854.17 67.95 854.16 68.95 854.15 69.95 854.14 70.95 854.14 71.95 854.14 72.95 854.14 73.95 854.15 74.95 854.15 75.95 854.16 76.95 854.17 77.95 854.18 78.95 854.2 79.95 854.21 80.95 854.23 81.95 854.24 82.95 854.26 83.95 854.28 84.95 854.3 85.95 854.32 86.95 854.34 87.95 854.37 88.95 854.39 89.95 854.4 90.95 854.4 91.95 854.4 92.95 854.4 93.95 854.4 94.95 854.4 95.95 854.4 96.95 854.4 97.95 854.4 98.95 854.4 99.95 854.4 100.95 854.4 101.95 854.4 102.95 854.4 103.95 854.4 104.95 854.4 105.95 854.4 106.95 854.4 107.95 854.4 108.95 854.4 109.95 854.4 110.95 854.4 111.95 854.4 112.95 854.4 113.95 854.4 114.95 854.4 115.95 854.4 116.95 854.4 117.95 854.4 118.95 854.4 119.95 854.4 120.95 854.4 121.95 854.4 122.95 854.4 123.95 854.4 124.95 854.4 125.95 854.37 126.95 854.31 127.95 854.26 128.95 854.19 129.95 854.13 130.95 854.06 131.95 853.98 132.95 853.9 133.95 853.81 134.95 853.72 135.95 853.62 136.95 853.52 137.95 853.41 138.95 853.3 139.95 853.18 140.95 853.05 141.95 852.92 142.95 852.78 143.95 852.64 144.95 852.48 145.95 852.33 146.95 852.16 147.95 851.99 148.95 851.81 149.95 851.63 150.95 851.43 151.95 851.22 152.95 851 153.95 850.75 154.95 850.49 155.95 850.2 156.95 849.89 157.95 849.55 158.95 849.18 159.95 848.78 160.95 848.34 161.95 847.87 162.95 847.36 163.95 846.8 164.95 846.2 165.95 845.55 166.95 844.85 167.95 844.1 168.95 843.3 169.95 842.44 170.95 841.52 171.95 840.54 172.95 839.5 173.95 838.39 174.95 837.21 175.95 835.97 176.95 834.67 177.95 833.32 178.95 831.91 179.95 830.45 180.95 828.94 181.95 827.39 182.95 825.8 183.95 824.16 184.95 822.49 185.95 820.78 186.95 819.04 187.95 817.28 188.95 815.48 189.95 813.67 190.95 811.84 191.95 809.99 192.95 808.14 193.95 806.28 194.95 804.44 195.95 802.61 196.95 800.8 197.95 799.01 198.95 797.26 199.95 795.55 200.95 793.86 201.95 792.21 202.95 790.58 203.95 788.99 204.95 787.43 205.95 785.89 206.95 784.38 207.95 782.9 208.95 781.44 209.95 780.01 210.95 778.6 211.95 777.21 212.95 775.85 213.95 774.5 214.95 773.18 215.95 771.87 216.95 770.59 217.95 769.31 218.95 768.06 219.95 766.82 220.95 765.6 221.95 764.38 222.95 763.19 223.95 762 224.95 760.82 225.95 759.66 226.95 758.52 227.95 757.39 228.95 756.28 229.95 755.19 230.95 754.12 231.95 753.07 232.95 752.04 233.95 751.04 234.95 750.06 235.95 749.1 236.95 748.18 237.95 747.28 238.95 746.41 239.95 745.57 240.95 744.76 241.95 743.98 242.95 743.23 243.95 742.51 244.95 741.81 245.95 741.14 246.95 740.5 247.95 739.89 248.95 739.29 249.95 738.72 250.95 738.18 251.95 737.65 252.95 737.15 253.95 736.67 254.95 736.2 255.95 735.76 256.95 735.33 257.95 734.92 258.95 734.53 259.95 734.16 260.95 733.79 261.95 733.45 262.95 733.12 263.95 732.79 264.95 732.49 265.95 732.19 266.95 731.91 267.95 731.63 268.95 731.37 269.95 731.12 270.95 730.88 271.95 730.65 272.95 730.43 273.95 730.22 274.95 730.02 275.95 729.83 276.95 729.65 277.95 729.48 278.95 729.32 279.95 729.17 280.95 729.03 281.95 728.9 282.95 728.77 283.95 728.66 284.95 728.55 285.95 728.45 286.95 728.36 287.95 728.27 288.95 728.19 289.95 728.12 290.95 728.06 291.95 728.01 292.95 727.96 293.95 727.91 294.95 727.88 295.95 727.85 296.95 727.82 297.95 727.81 298.95 727.79 299.95 727.79 300.95 727.79 301.95 727.79 302.95 727.8 303.95 727.81 304.95 727.83 305.95 727.85 306.95 727.88 307.95 727.91 308.95 727.94 309.95 727.98 310.95 728.02 311.95 728.06 312.95 728.11 313.95 728.16 314.95 728.21 315.95 728.27 316.95 728.33 317.95 728.39 318.95 728.45 319.95 728.52 320.95 728.59 321.95 728.66 322.95 728.73 323.95 728.81 324.95 728.89 325.95 728.97 326.95 729.05 327.95 729.13 328.95 729.22 329.95 729.31 330.95 729.41 331.95 729.5 332.95 729.6 333.95 729.7 334.95 729.8 335.95 729.9 336.95 730 337.95 730.11 338.95 730.22 339.95 730.33 340.95 730.45 341.95 730.56 342.95 730.68 343.95 730.8 344.95 730.92 345.95 731.04 346.95 731.17 347.95 731.29 348.95 731.42 349.95 731.55 350.95 731.68 351.95 731.82 352.95 731.95 353.95 732.09 354.95 732.22 355.95 732.36 356.95 732.5 357.95 732.65 358.95 732.79 359.95 732.94 360.95 733.08 361.95 733.23 362.95 733.38 363.95 733.53 364.95 733.68 365.95 733.84 366.95 733.99 367.95 734.15 368.95 734.3 369.95 734.46 370.95 734.62 371.95 734.78 372.95 734.94 373.95 735.1 374.95 735.27 375.95 735.43 376.95 735.6 377.95 735.76 378.95 735.93 379.95 736.1 380.95 736.27 381.95 736.44 382.95 736.61 383.95 736.78 384.95 736.95 385.95 737.12 386.95 737.3 387.95 737.47 388.95 737.64 389.95 737.82 390.95 737.99 391.95 738.17 392.95 738.35 393.95 738.52 394.95 738.7 395.95 738.88 396.95 739.06 397.95 739.23 398.95 739.41 399.95 739.59 400.95 739.77 401.95 739.95 402.95 740.13 403.95 740.31 404.95 740.49 405.95 740.67 406.95 740.86 407.95 741.04 408.95 741.22 409.95 741.4 410.95 741.58 411.95 741.77 412.95 741.95 413.95 742.13 414.95 742.32 415.95 742.5 416.95 742.69 417.95 742.87 418.95 743.06 419.95 743.24 420.95 743.43 421.95 743.61 422.95 743.8 423.95 743.98 424.95 744.17 425.95 744.36 426.95 744.54 427.95 744.73 428.95 744.92 429.95 745.1 430.95 745.29 431.95 745.48 432.95 745.67 433.95 745.86 434.95 746.05 435.95 746.23 436.95 746.42 437.95 746.61 438.95 746.8 439.95 746.99 440.95 747.18 441.95 747.37 442.95 747.56 443.95 747.75 444.95 747.94 445.95 748.13 446.95 748.32 447.95 748.51 448.95 748.7 449.95 748.89 450.95 749.09 451.95 749.28 452.95 749.47 453.95 749.66 454.95 749.85 455.95 750.04 456.95 750.24 457.95 750.43 458.95 750.62 459.95 750.81 460.95 751 461.95 751.2 462.95 751.39 463.95 751.58 464.95 751.77 465.95 751.97 466.95 752.16 467.95 752.35 468.95 752.54 469.95 752.74 470.95 752.93 471.95 753.12 472.95 753.32 473.95 753.51 474.95 753.7 475.95 753.9 476.95 754.09 477.95 754.28 478.95 754.48 479.95 754.67 480.95 754.86 481.95 755.06 482.95 755.25 483.95 755.44 484.95 755.63 485.95 755.83 486.95 756.02 487.95 756.21 488.95 756.41 489.95 756.6 490.95 756.79 491.95 756.99 492.95 757.18 493.95 757.37 494.95 757.57 495.95 757.76 496.95 757.95 497.95 758.14 498.95 758.34 499.95 758.53 500.95 758.72 501.95 758.91 502.95 759.11 503.95 759.3 504.95 759.49 505.95 759.68 506.95 759.87 507.95 760.07 508.95 760.26 509.95 760.45 510.95 760.64 511.95 760.83 512.95 761.02 513.95 761.21 514.95 761.41 515.95 761.6 516.95 761.79 517.95 761.98 518.95 762.17 519.95 762.36 520.95 762.55 521.95 762.74 522.95 762.93 523.95 763.12 524.95 763.31 525.95 763.5 526.95 763.68 527.95 763.87 528.95 764.06 529.95 764.25 530.95 764.44 531.95 764.63 532.95 764.81 533.95 765 534.95 765.19 535.95 765.38 536.95 765.56 537.95 765.75 538.95 765.94 539.95 766.12 540.95 766.31 541.95 766.49 542.95 766.68 543.95 766.87 544.95 767.05 545.95 767.23 546.95 767.42 547.95 767.6 548.95 767.79 549.95 767.97 550.95 768.15 551.95 768.34 552.95 768.52 553.95 768.7 554.95 768.88 555.95 769.07 556.95 769.25 557.95 769.43 558.95 769.61 559.95 769.79 560.95 769.97 561.95 770.15 562.95 770.33 563.95 770.51 564.95 770.69 565.95 770.87 566.95 771.05 567.95 771.22 568.95 771.4 569.95 771.58 570.95 771.75 571.95 771.93 572.95 772.11 573.95 772.28 574.95 772.46 575.95 772.63 576.95 772.81 577.95 772.98 578.95 773.15 579.95 773.33 580.95 773.5 581.95 773.67 582.95 773.84 583.95 774.02 584.95 774.19 585.95 774.36 586.95 774.53 587.95 774.7 588.95 774.87 589.95 775.04 590.95 775.21 591.95 775.37 592.95 775.54 593.95 775.71 594.95 775.87 595.95 776.04 596.95 776.21 597.95 776.37 598.95 776.54 599.95 776.7 600.95 776.86 601.95 777.03 602.95 777.19 603.95 777.35 604.95 777.51 605.95 777.68 606.95 777.84 607.95 778 608.95 778.16 609.95 778.31 610.95 778.47 611.95 778.63 612.95 778.79 613.95 778.95 614.95 779.1 615.95 779.26 616.95 779.41 617.95 779.57 618.95 779.72 619.95 779.88 620.95 780.03 621.95 780.18 622.95 780.33 623.95 780.48 624.95 780.63 625.95 780.78 626.95 780.93 627.95 781.08 628.95 781.23 629.95 781.38 630.95 781.53 631.95 781.67 632.95 781.82 633.95 781.96 634.95 782.11 635.95 782.25 636.95 782.39 637.95 782.54 638.95 782.68 639.95 782.82 640.95 782.96 641.95 783.1 642.95 783.24 643.95 783.38 644.95 783.52 645.95 783.65 646.95 783.79 647.95 783.93 648.95 784.06 649.95 784.2 650.95 784.33 651.95 784.46 652.95 784.59 653.95 784.73 654.95 784.86 655.95 784.99 656.95 785.12 657.95 785.24 658.95 785.37 659.95 785.5 660.95 785.63 661.95 785.75 662.95 785.88 663.95 786 664.95 786.12 665.95 786.25 666.95 786.37 667.95 786.49 668.95 786.61 669.95 786.73 670.95 786.85 671.95 786.97 672.95 787.08 673.95 787.2 674.95 787.32 675.95 787.43 676.95 787.54" stroke="#ff8000" stroke-dasharray="10.7 2.47 2.0 2.47" stroke-dashoffset="-3.0"/>
<path d="M53.95 854.13 54.95 854.15 55.95 854.17 56.95 854.18 57.95 854.2 58.95 854.22 59.95 854.23 60.95 854.25 61.95 854.26 62.95 854.28 63.95 854.29 64.95 854.31 65.95 854.32 66.95 854.34 67.95 854.35 68.95 854.36 69.95 854.37 70.95 854.39 71.95 854.4 72.95 854.4 73.95 854.4 74.95 854.4 75.95 854.4 76.95 854.4 77.95 854.4 78.95 854.4 79.95 854.4 80.95 854.4 81.95 854.4 82.95 854.4 83.95 854.4 84.95 854.4 85.95 854.4 86.95 854.4 87.95 854.4 88.95 854.4 89.95 854.4 90.95 854.4 91.95 854.4 92.95 854.4 93.95 854.4 94.95 854.4 95.95 854.4 96.95 854.4 97.95 854.4 98.95 854.4 99.95 854.4 100.95 854.4 101.95 854.4 102.95 854.4 103.95 854.4 104.95 854.4 105.95 854.4 106.95 854.4 107.95 854.4 108.95 854.4 109.95 854.4 110.95 854.4 111.95 854.4 112.95 854.4 113.95 854.4 114.95 854.4 115.95 854.4 116.95 854.4 117.95 854.4 118.95 854.4 119.95 854.4 120.95 854.4 121.95 854.4 122.95 854.4 123.95 854.4 124.95 854.4 125.95 854.4 126.95 854.4 127.95 854.4 128.95 854.4 129.95 854.4 130.95 854.4 131.95 854.4 132.95 854.4 133.95 854.4 134.95 854.4 135.95 854.4 136.95 854.4 137.95 854.4 138.95 854.4 139.95 854.4 140.95 854.4 141.95 854.4 142.95 854.4 143.95 854.4 144.95 854.4 145.95 854.4 146.95 854.4 147.95 854.4 148.95 854.4 149.95 854.4 150.95 854.4 151.95 854.4 152.95 854.4 153.95 854.4 154.95 854.4 155.95 854.4 156.95 854.4 157.95 854.4 158.95 854.4 159.95 854.4 160.95 854.4 161.95 854.4 162.95 854.4 163.95 854.39 164.95 854.39 165.95 854.38 166.95 854.37 167.95 854.37 168.95 854.36 169.95 854.36 170.95 854.35 171.95 854.34 172.95 854.34 173.95 854.33 174.95 854.32 175.95 854.32 176.95 854.31 177.95 854.31 178.95 854.3 179.95 854.29 180.95 854.29 181.95 854.28 182.95 854.28 183.95 854.27 184.95 854.26 185.95 854.26 186.95 854.25 187.95 854.25 188.95 854.24 189.95 854.24 190.95 854.23 191.95 854.23 192.95 854.22 193.95 854.22 194.95 854.21 195.95 854.21 196.95 854.2 197.95 854.2 198.95 854.19 199.95 854.19 200.95 854.18 201.95 854.18 202.95 854.17 203.95 854.17 204.95 854.17 205.95 854.16 206.95 854.16 207.95 854.16 208.95 854.15 209.95 854.15 210.95 854.15 211.95 854.14 212.95 854.14 213.95 854.14 214.95 854.14 215.95 854.13 216.95 854.13 217.95 854.13 218.95 854.13 219.95 854.13 220.95 854.13 221.95 854.12 222.95 854.12 223.95 854.12 224.95 854.12 225.95 854.12 226.95 854.12 227.95 854.12 228.95 854.12 229.95 854.12 230.95 854.13 231.95 854.13 232.95 854.13 233.95 854.13 234.95 854.13 235.95 854.13 236.95 854.14 237.95 854.14 238.95 854.14 239.95 854.14 240.95 854.15 241.95 854.15 242.95 854.16 243.95 854.16 244.95 854.16 245.95 854.17 246.95 854.17 247.95 854.18 248.95 854.19 249.95 854.19 250.95 854.2 251.95 854.21 252.95 854.21 253.95 854.22 254.95 854.23 255.95 854.23 256.95 854.24 257.95 854.25 258.95 854.26 259.95 854.27 260.95 854.28 261.95 854.29 262.95 854.3 263.95 854.31 264.95 854.32 265.95 854.33 266.95 854.34 267.95 854.36 268.95 854.37 269.95 854.38 270.95 854.4 271.95 854.4 272.95 854.4 273.95 854.4 274.95 854.4 275.95 854.4 276.95 854.4 277.95 854.4 278.95 854.4 279.95 854.4 280.95 854.4 281.95 854.4 282.95 854.4 283.95 854.4 284.95 854.4 285.95 854.4 286.95 854.4 287.95 854.4 288.95 854.4 289.95 854.4 290.95 854.4 291.95 854.4 292.95 854.4 293.95 854.4 294.95 854.4 295.95 854.4 296.95 854.4 297.95 854.4 298.95 854.4 299.95 854.4 300.95 854.4 301.95 854.4 302.95 854.4 303.95 854.4 304.95 854.4 305.95 854.4 306.95 854.4 307.95 854.4 308.95 854.4 309.95 854.4 310.95 854.4 311.95 854.4 312.95 854.4 313.95 854.4 314.95 854.4 315.95 854.4 316.95 854.4 317.95 854.4 318.95 854.4 319.95 854.4 320.95 854.4 321.95 854.4 322.95 854.4 323.95 854.4 324.95 854.4 325.95 854.4 326.95 854.4 327.95 854.4 328.95 854.4 329.95 854.4 330.95 854.4 331.95 854.4 332.95 854.4 333.95 854.4 334.95 854.37 335.95 854.29 336.95 854.21 337.95 854.12 338.95 854.03 339.95 853.94 340.95 853.83 341.95 853.73 342.95 853.62 343.95 853.5 344.95 853.37 345.95 853.25 346.95 853.11 347.95 852.97 348.95 852.82 349.95 852.67 350.95 852.51 351.95 852.35 352.95 852.17 353.95 852 354.95 851.81 355.95 851.62 356.95 851.42 357.95 851.21 358.95 851 359.95 850.78 360.95 850.55 361.95 850.32 362.95 850.07 363.95 849.82 364.95 849.57 365.95 849.3 366.95 849.03 367.95 848.74 368.95 848.45 369.95 848.16 370.95 847.85 371.95 847.54 372.95 847.21 373.95 846.88 374.95 846.54 375.95 846.19 376.95 845.84 377.95 845.47 378.95 845.1 379.95 844.71 380.95 844.32 381.95 843.92 382.95 843.51 383.95 843.09 384.95 842.67 385.95 842.23 386.95 841.78 387.95 841.33 388.95 840.86 389.95 840.39 390.95 839.9 391.95 839.41 392.95 838.9 393.95 838.39 394.95 837.87 395.95 837.34 396.95 836.79 397.95 836.24 398.95 835.68 399.95 835.1 400.95 834.52 401.95 833.93 402.95 833.32 403.95 832.71 404.95 832.08 405.95 831.45 406.95 830.8 407.95 830.15 408.95 829.48 409.95 828.8 410.95 828.11 411.95 827.41 412.95 826.7 413.95 825.98 414.95 825.24 415.95 824.5 416.95 823.75 417.95 822.99 418.95 822.21 419.95 821.43 420.95 820.65 421.95 819.85 422.95 819.04 423.95 818.23 424.95 817.42 425.95 816.59 426.95 815.76 427.95 814.93 428.95 814.09 429.95 813.24 430.95 812.39 431.95 811.54 432.95 810.68 433.95 809.82 434.95 808.96 435.95 808.09 436.95 807.23 437.95 806.36 438.95 805.49 439.95 804.62 440.95 803.75 441.95 802.88 442.95 802.01 443.95 801.15 444.95 800.28 445.95 799.41 446.95 798.55 447.95 797.69 448.95 796.83 449.95 795.98 450.95 795.12 451.95 794.27 452.95 793.42 453.95 792.58 454.95 791.74 455.95 790.89 456.95 790.06 457.95 789.22 458.95 788.39 459.95 787.56 460.95 786.73 461.95 785.91 462.95 785.09 463.95 784.27 464.95 783.45 465.95 782.64 466.95 781.83 467.95 781.02 468.95 780.22 469.95 779.42 470.95 778.62 471.95 777.83 472.95 777.04 473.95 776.25 474.95 775.47 475.95 774.69 476.95 773.91 477.95 773.14 478.95 772.37 479.95 771.61 480.95 770.84 481.95 770.09 482.95 769.33 483.95 768.58 484.95 767.83 485.95 767.09 486.95 766.35 487.95 765.61 488.95 764.88 489.95 764.16 490.95 763.43 491.95 762.71 492.95 762 493.95 761.29 494.95 760.58 495.95 759.88 496.95 759.18 497.95 758.49 498.95 757.8 499.95 757.11 500.95 756.43 501.95 755.76 502.95 755.08 503.95 754.42 504.95 753.76 505.95 753.1 506.95 752.44 507.95 751.8 508.95 751.15 509.95 750.52 510.95 749.88 511.95 749.25 512.95 748.63 513.95 748.01 514.95 747.4 515.95 746.79 516.95 746.19 517.95 745.59 518.95 745 519.95 744.41 520.95 743.83 521.95 743.25 522.95 742.68 523.95 742.11 524.95 741.55 525.95 741 526.95 740.45 527.95 739.9 528.95 739.37 529.95 738.83 530.95 738.31 531.95 737.79 532.95 737.27 533.95 736.76 534.95 736.26 535.95 735.76 536.95 735.27 537.95 734.78 538.95 734.3 539.95 733.83 540.95 733.36 541.95 732.9 542.95 732.45 543.95 732 544.95 731.56 545.95 731.12 546.95 730.69 547.95 730.27 548.95 729.85 549.95 729.44 550.95 729.04 551.95 728.64 552.95 728.25 553.95 727.87 554.95 727.49 555.95 727.12 556.95 726.76 557.95 726.4 558.95 726.05 559.95 725.71 560.95 725.37 561.95 725.05 562.95 724.72 563.95 724.41 564.95 724.1 565.95 723.8 566.95 723.51 567.95 723.22 568.95 722.94 569.95 722.66 570.95 722.4 571.95 722.13 572.95 721.88 573.95 721.63 574.95 721.39 575.95 721.15 576.95 720.92 577.95 720.69 578.95 720.47 579.95 720.25 580.95 720.05 581.95 719.84 582.95 719.64 583.95 719.45 584.95 719.26 585.95 719.08 586.95 718.9 587.95 718.73 588.95 718.56 589.95 718.4 590.95 718.24 591.95 718.09 592.95 717.94 593.95 717.79 594.95 717.65 595.95 717.52 596.95 717.38 597.95 717.26 598.95 717.13 599.95 717.01 600.95 716.9 601.95 716.78 602.95 716.67 603.95 716.57 604.95 716.47 605.95 716.37 606.95 716.27 607.95 716.18 608.95 716.09 609.95 716.01 610.95 715.93 611.95 715.85 612.95 715.77 613.95 715.7 614.95 715.63 615.95 715.56 616.95 715.49 617.95 715.43 618.95 715.37 619.95 715.31 620.95 715.25 621.95 715.2 622.95 715.14 623.95 715.09 624.95 715.04 625.95 715 626.95 714.95 627.95 714.91 628.95 714.86 629.95 714.82 630.95 714.78 631.95 714.74 632.95 714.71 633.95 714.67 634.95 714.64 635.95 714.6 636.95 714.57 637.95 714.53 638.95 714.5 639.95 714.47 640.95 714.44 641.95 714.41 642.95 714.38 643.95 714.35 644.95 714.32 645.95 714.29 646.95 714.26 647.95 714.23 648.95 714.2 649.95 714.17 650.95 714.14 651.95 714.11 652.95 714.08 653.95 714.04 654.95 714.01 655.95 713.98 656.95 713.94 657.95 713.91 658.95 713.87 659.95 713.83 660.95 713.79 661.95 713.75 662.95 713.71 663.95 713.67 664.95 713.62 665.95 713.58 666.95 713.53 667.95 713.48 668.95 713.43 669.95 713.38 670.95 713.32 671.95 713.26 672.95 713.2 673.95 713.14 674.95 713.08 675.95 713.01 676.95 712.94" stroke="#ff0000" stroke-dasharray="10.7 2.47 2.0 2.47" stroke-dashoffset="-0.9"/>
</g>
<path d="M57.5 854.4v2.3M98.83 854.4v4M140.17 854.4v2.3M181.5 854.4v4M222.83 854.4v2.3M264.17 854.4v4M305.5 854.4v2.3M346.83 854.4v4M388.17 854.4v2.3M429.5 854.4v4M470.83 854.4v2.3M512.17 854.4v4M553.5 854.4v2.3M594.83 854.4v4M636.17 854.4v2.3M677.5 854.4v4M57.5 854.4h-4M57.5 831.91h-2.3M57.5 809.43h-4M57.5 786.94h-2.3M57.5 764.46h-4M57.5 741.97h-2.3M57.5 719.49h-4M57.5 697h-2.3" stroke="#1e1e1e" stroke-width="1" fill="none"/>
<rect x="57.5" y="697.0" width="620.0" height="157.4" fill="none" stroke="#1e1e1e" stroke-width="1.1"/>
<g font-family='"Liberation Serif", serif' font-size="16.9" fill="#111" lengthAdjust="spacingAndGlyphs">
<text x="98.83" y="878.5" text-anchor="middle" textLength="7.75" lengthAdjust="spacingAndGlyphs">5</text>
<text x="181.5" y="878.5" text-anchor="middle" textLength="15.5" lengthAdjust="spacingAndGlyphs">10</text>
<text x="264.17" y="878.5" text-anchor="middle" textLength="15.5" lengthAdjust="spacingAndGlyphs">15</text>
<text x="346.83" y="878.5" text-anchor="middle" textLength="15.5" lengthAdjust="spacingAndGlyphs">20</text>
<text x="429.5" y="878.5" text-anchor="middle" textLength="15.5" lengthAdjust="spacingAndGlyphs">25</text>
<text x="512.17" y="878.5" text-anchor="middle" textLength="15.5" lengthAdjust="spacingAndGlyphs">30</text>
<text x="594.83" y="878.5" text-anchor="middle" textLength="15.5" lengthAdjust="spacingAndGlyphs">35</text>
<text x="677.5" y="878.5" text-anchor="middle" textLength="15.5" lengthAdjust="spacingAndGlyphs">40</text>
<text x="45.3" y="860.1" text-anchor="end" textLength="7.75" lengthAdjust="spacingAndGlyphs">0</text>
<text x="45.3" y="815.13" text-anchor="end" textLength="15.5" lengthAdjust="spacingAndGlyphs">50</text>
<text x="45.3" y="770.16" text-anchor="end" textLength="23.25" lengthAdjust="spacingAndGlyphs">100</text>
<text x="45.3" y="725.19" text-anchor="end" textLength="23.25" lengthAdjust="spacingAndGlyphs">150</text>
</g>
<text x="333.4" y="898.4" font-family='"Liberation Serif", serif' font-style="italic" font-size="18" fill="#111" textLength="13" lengthAdjust="spacingAndGlyphs">E</text>
<text x="353.4" y="898.4" font-family='"Liberation Serif", serif' font-size="18" fill="#111" textLength="47.8" lengthAdjust="spacingAndGlyphs">(MeV)</text>
<g transform="translate(13.9,775.7) rotate(-90)" font-family='"Liberation Serif", serif' font-size="18" fill="#111">
<path d="M-27.4 -13.9L-31.8 -4.95L-27.4 4M-15.5 -13.9L-11.1 -4.95L-15.5 4" fill="none" stroke="#111" stroke-width="0.8"/>
<text x="-25.9" y="0" font-style="italic" textLength="9" lengthAdjust="spacingAndGlyphs">σ</text>
<text x="-1.4" y="0" textLength="33.2" lengthAdjust="spacingAndGlyphs">(mb)</text>
</g>
<text x="73.15" y="687.5" font-family='"Liberation Serif", serif' font-weight="bold" font-size="21" fill="#000">(d)</text>
<rect x="64.9" y="704.2" width="77.1" height="83.7" rx="2.6" fill="#fff" stroke="#8a8a8a" stroke-width="1.3"/>
<path d="M70.2 716.6H90.2" stroke="#800080" stroke-width="1.95" stroke-dasharray="10.7 2.47 2.0 2.47"/>
<text x="94.7" y="714.9" font-family='"Liberation Serif", serif' font-size="10.8" fill="#111" textLength="15.0" lengthAdjust="spacingAndGlyphs">177</text>
<text x="111.2" y="720.1" font-family='"Liberation Serif", serif' font-size="15.6" fill="#111" textLength="18.6" lengthAdjust="spacingAndGlyphs">Yb</text>
<path d="M70.2 736.7H90.2" stroke="#0000ff" stroke-width="1.95" stroke-dasharray="10.7 2.47 2.0 2.47"/>
<text x="94.7" y="735" font-family='"Liberation Serif", serif' font-size="10.8" fill="#111" textLength="21.3" lengthAdjust="spacingAndGlyphs">177g</text>
<text x="116.9" y="740.2" font-family='"Liberation Serif", serif' font-size="15.6" fill="#111" textLength="16.6" lengthAdjust="spacingAndGlyphs">Lu</text>
<path d="M70.2 756.8H90.2" stroke="#ff8000" stroke-width="1.95" stroke-dasharray="10.7 2.47 2.0 2.47"/>
<text x="94.7" y="755.1" font-family='"Liberation Serif", serif' font-size="10.8" fill="#111" textLength="24.2" lengthAdjust="spacingAndGlyphs">176m</text>
<text x="119.9" y="760.3" font-family='"Liberation Serif", serif' font-size="15.6" fill="#111" textLength="16.6" lengthAdjust="spacingAndGlyphs">Lu</text>
<path d="M70.2 776.9H90.2" stroke="#ff0000" stroke-width="1.95" stroke-dasharray="10.7 2.47 2.0 2.47"/>
<text x="94.7" y="775.2" font-family='"Liberation Serif", serif' font-size="10.8" fill="#111" textLength="24.2" lengthAdjust="spacingAndGlyphs">174m</text>
<text x="119.9" y="780.4" font-family='"Liberation Serif", serif' font-size="15.6" fill="#111" textLength="16.6" lengthAdjust="spacingAndGlyphs">Lu</text>
</svg></body></html>
